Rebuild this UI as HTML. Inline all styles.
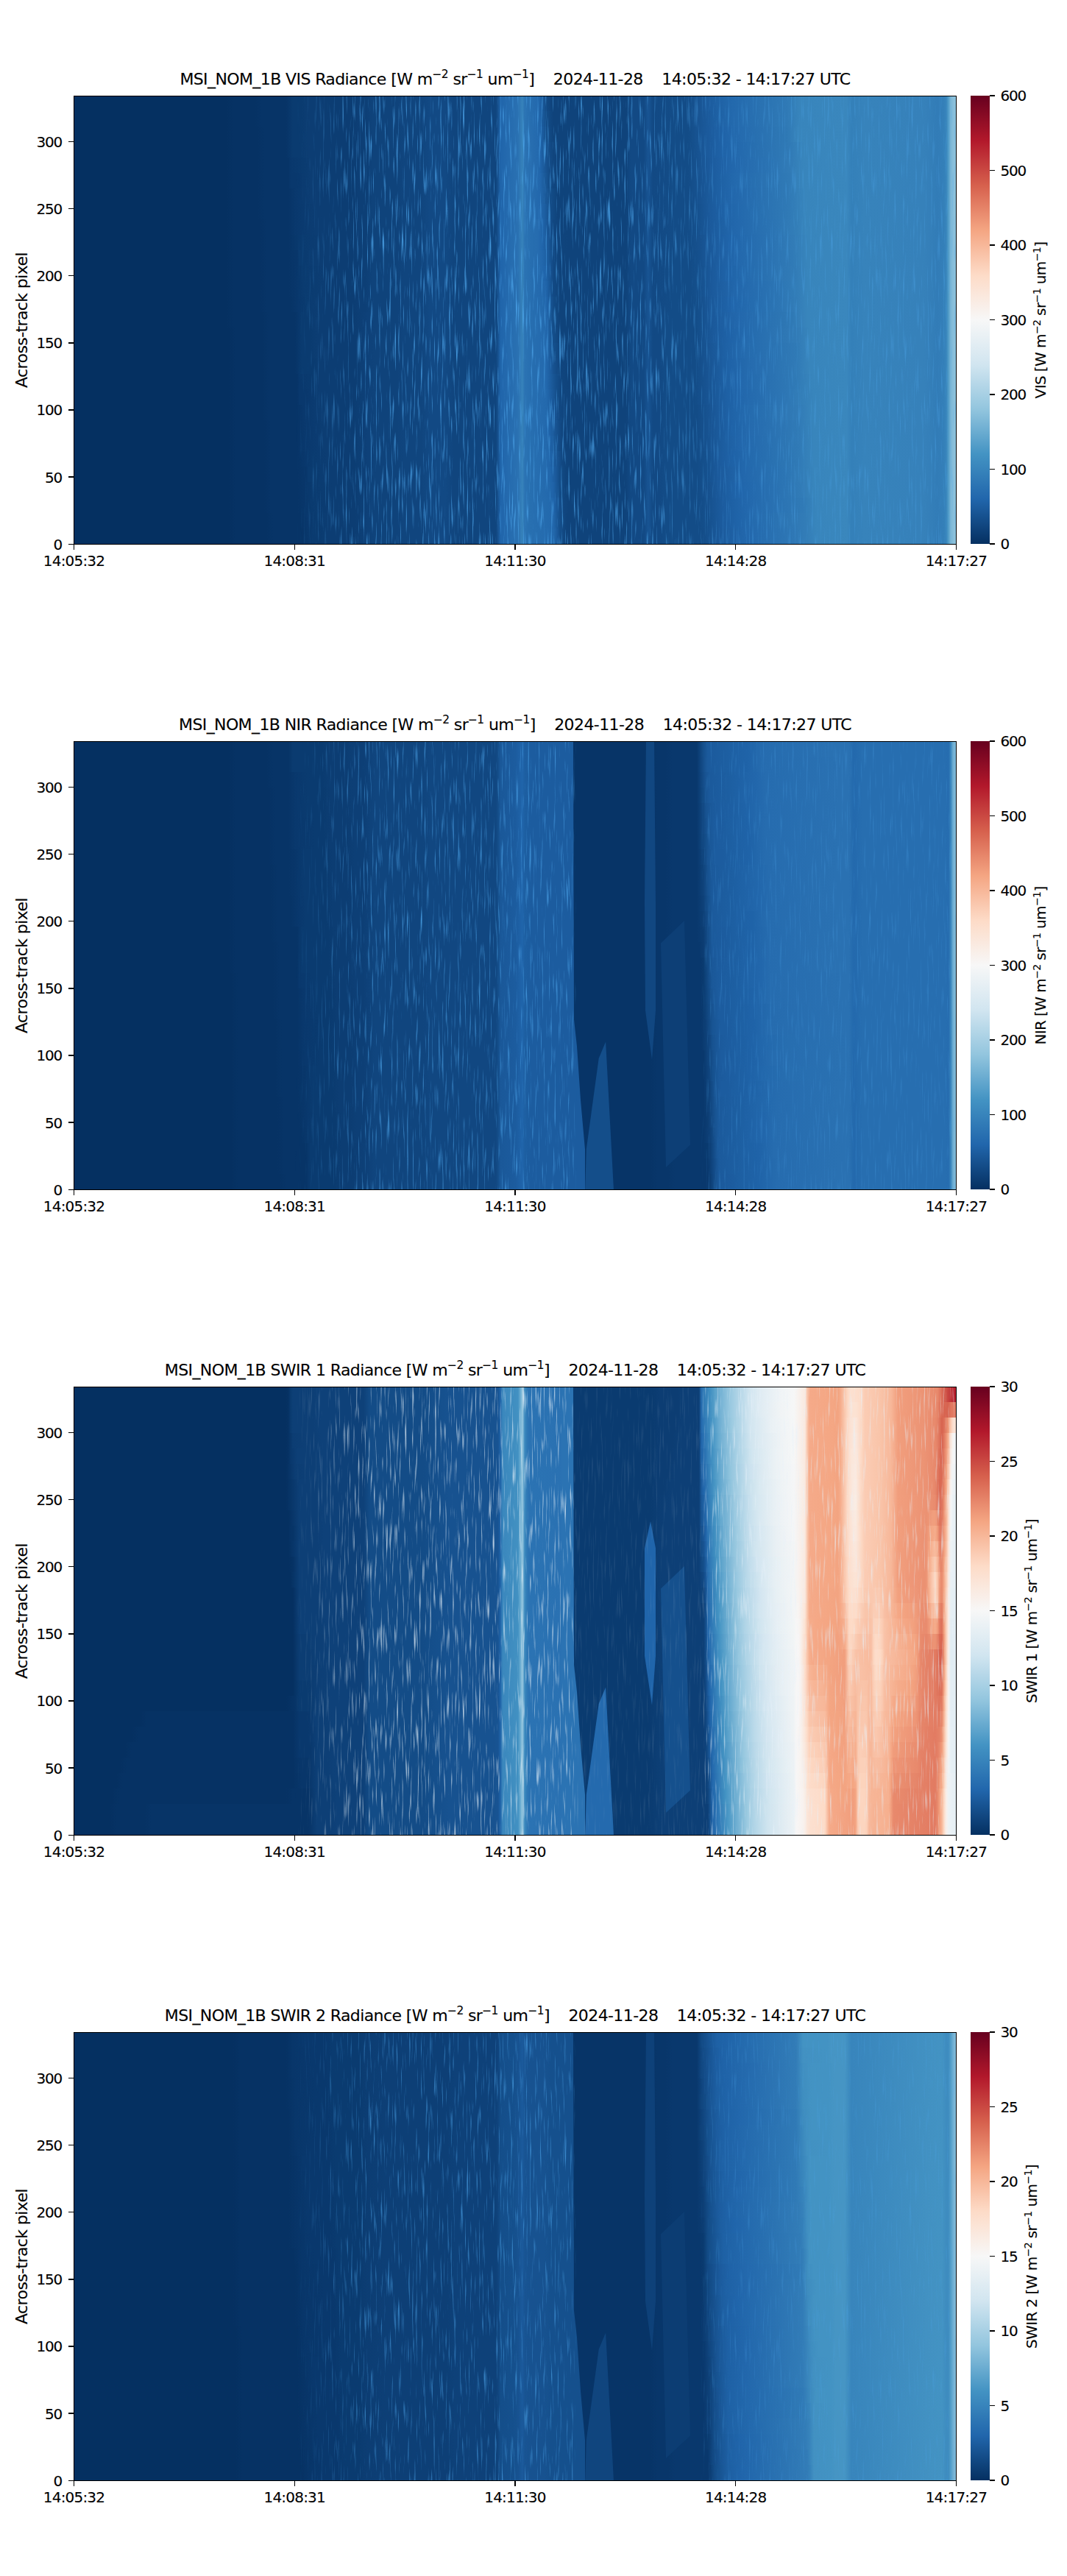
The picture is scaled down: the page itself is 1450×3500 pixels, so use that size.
<!DOCTYPE html><html><head><meta charset="utf-8"><title>MSI_NOM_1B Radiance</title><style>
html,body{margin:0;padding:0;background:#fff;}
body{width:1450px;height:3500px;position:relative;overflow:hidden;font-family:"DejaVu Sans","Liberation Sans",sans-serif;color:#000;}
.t{position:absolute;white-space:nowrap;line-height:1;-webkit-text-stroke:0.1px #000;}
.tick{font-size:20px;letter-spacing:-0.8px;}
.title{font-size:22px;letter-spacing:-0.6px;text-align:center;left:0;width:1400px;}
.title sup{font-size:70%;vertical-align:baseline;position:relative;top:-0.62em;}
.lab sup{font-size:70%;vertical-align:baseline;position:relative;top:-0.52em;}
.ax{position:absolute;box-sizing:border-box;border:1.3px solid #000;}
.img{position:absolute;overflow:hidden;}
.img div{position:absolute;}
.img .tex{left:0;top:0;width:1200px;height:609px;}
.img .tex svg{display:block}
.k{position:absolute;background:#000;}
.cb{position:absolute;background:linear-gradient(to top,#053061 0%,#2166ac 10%,#4393c3 20%,#92c5de 30%,#d1e5f0 40%,#f7f7f7 50%,#fddbc7 60%,#f4a582 70%,#d6604d 80%,#b2182b 90%,#67001f 100%);}
.rot{position:absolute;white-space:nowrap;line-height:1;-webkit-text-stroke:0.1px #000;transform-origin:0 0;transform:rotate(-90deg);}
</style></head><body>
<div class="t title" style="top:97.3px">MSI_NOM_1B VIS Radiance [W m<sup>−2</sup> sr<sup>−1</sup> um<sup>−1</sup>]&nbsp;&nbsp;&nbsp;&nbsp;2024-11-28&nbsp;&nbsp;&nbsp;&nbsp;14:05:32 - 14:17:27 UTC</div>
<div class="img" style="left:100.5px;top:130.5px;width:1198.9px;height:608.8px;"><div style="left:0;top:0.00px;width:1200px;height:21.59px;background:linear-gradient(to right,#053061 0px,#053061 207px,#063264 216px,#063264 246px,#073467 255px,#073467 288px,#0a3b70 297px,#0a3b70 309px,#0c3d73 318px,#0c3d73 378px,#0d3f76 387px,#0d3f76 396px,#0f437b 405px,#0f437b 438px,#10457e 447px,#10457e 471px,#124984 483px,#124984 504px,#10457e 516px,#10457e 573px,#175290 576px,#2065ab 579px,#2a71b2 603px,#3783bb 609px,#2b73b3 612px,#246aae 627px,#246aae 630px,#1f63a8 633px,#124984 642px,#0f437b 651px,#0f437b 750px,#124984 756px,#124984 774px,#185493 780px,#124984 786px,#134c87 813px,#134c87 831px,#185493 849px,#1b5a9c 858px,#1d5fa2 870px,#2369ad 894px,#307ab6 969px,#3885bc 987px,#3a87bd 1050px,#3480b9 1056px,#3783bb 1074px,#3681ba 1155px,#327cb7 1173px,#3480b9 1182px,#3885bc 1185px,#529dc8 1188px,#7bb6d6 1191px,#87beda 1194px,#8dc2dc 1197px)"></div><div style="left:0;top:20.99px;width:1200px;height:21.59px;background:linear-gradient(to right,#053061 0px,#053061 207px,#063264 216px,#063264 246px,#073467 255px,#073467 288px,#0a3b70 297px,#0a3b70 309px,#0c3d73 318px,#0c3d73 378px,#0d3f76 387px,#0d3f76 396px,#0f437b 405px,#0f437b 438px,#10457e 447px,#10457e 471px,#124984 483px,#124984 504px,#10457e 516px,#10457e 573px,#175290 576px,#2065ab 579px,#2a71b2 603px,#3783bb 609px,#2b73b3 612px,#246aae 627px,#246aae 630px,#1f63a8 633px,#134c87 642px,#0f437b 651px,#0f437b 750px,#124984 756px,#124984 774px,#185493 780px,#124984 786px,#134c87 813px,#134c87 831px,#185493 849px,#1d5fa2 870px,#2369ad 894px,#307ab6 969px,#3885bc 987px,#3a87bd 1050px,#3480b9 1056px,#3783bb 1074px,#3681ba 1155px,#327cb7 1173px,#3480b9 1182px,#3885bc 1185px,#529dc8 1188px,#7bb6d6 1191px,#87beda 1194px,#8dc2dc 1197px)"></div><div style="left:0;top:41.99px;width:1200px;height:21.59px;background:linear-gradient(to right,#053061 0px,#053061 207px,#063264 216px,#063264 249px,#073467 258px,#073467 288px,#0a3b70 297px,#0a3b70 309px,#0c3d73 318px,#0c3d73 378px,#0d3f76 387px,#0d3f76 396px,#0f437b 405px,#0f437b 438px,#10457e 447px,#10457e 471px,#124984 483px,#124984 504px,#10457e 516px,#10457e 573px,#175290 576px,#2065ab 579px,#2a71b2 603px,#3783bb 609px,#2b73b3 612px,#266caf 624px,#246aae 630px,#2065ab 633px,#144e8a 642px,#0f437b 651px,#0f437b 750px,#124984 756px,#124984 774px,#185493 780px,#124984 786px,#134c87 813px,#134c87 834px,#195696 852px,#1b5a9c 861px,#1f63a8 882px,#246aae 900px,#2f79b5 969px,#3885bc 984px,#3a87bd 1050px,#3480b9 1056px,#3783bb 1074px,#3681ba 1155px,#327cb7 1173px,#3480b9 1182px,#3885bc 1185px,#529dc8 1188px,#7bb6d6 1191px,#87beda 1194px,#8dc2dc 1197px)"></div><div style="left:0;top:62.98px;width:1200px;height:21.59px;background:linear-gradient(to right,#053061 0px,#053061 207px,#063264 216px,#063264 249px,#073467 258px,#073467 288px,#0a3b70 297px,#0a3b70 309px,#0c3d73 318px,#0c3d73 378px,#0d3f76 387px,#0d3f76 396px,#0f437b 405px,#0f437b 438px,#10457e 447px,#10457e 471px,#124984 483px,#124984 504px,#10457e 516px,#10457e 573px,#175290 576px,#2065ab 579px,#2a71b2 603px,#3783bb 609px,#2b73b3 612px,#266caf 624px,#246aae 630px,#2065ab 633px,#15508d 642px,#10457e 651px,#0f437b 660px,#0f437b 750px,#124984 756px,#124984 774px,#185493 780px,#124984 786px,#134c87 813px,#134c87 834px,#1b5a9c 861px,#1f63a8 882px,#2369ad 900px,#307ab6 972px,#3885bc 990px,#3a87bd 1050px,#3480b9 1056px,#3783bb 1074px,#3681ba 1155px,#327cb7 1173px,#3480b9 1182px,#3885bc 1185px,#529dc8 1188px,#7bb6d6 1191px,#87beda 1194px,#8dc2dc 1197px)"></div><div style="left:0;top:83.97px;width:1200px;height:21.59px;background:linear-gradient(to right,#053061 0px,#053061 207px,#063264 216px,#063264 249px,#073467 258px,#073467 291px,#09386d 294px,#0a3b70 312px,#0c3d73 321px,#0c3d73 378px,#0d3f76 387px,#0d3f76 396px,#0f437b 405px,#0f437b 438px,#10457e 447px,#10457e 471px,#124984 483px,#124984 504px,#10457e 516px,#10457e 573px,#175290 576px,#2065ab 579px,#2a71b2 603px,#3783bb 609px,#2b73b3 612px,#266caf 624px,#246aae 630px,#2065ab 633px,#175290 642px,#10457e 651px,#0f437b 669px,#0f437b 750px,#124984 756px,#124984 774px,#185493 780px,#124984 786px,#134c87 813px,#134c87 834px,#195696 855px,#1c5c9f 867px,#2267ac 894px,#2c75b4 951px,#327cb7 975px,#3885bc 990px,#3a87bd 1050px,#3480b9 1056px,#3783bb 1074px,#3681ba 1155px,#327cb7 1173px,#3480b9 1182px,#3885bc 1185px,#529dc8 1188px,#7bb6d6 1191px,#87beda 1194px,#8dc2dc 1197px)"></div><div style="left:0;top:104.97px;width:1200px;height:21.59px;background:linear-gradient(to right,#053061 0px,#053061 207px,#063264 216px,#063264 249px,#073467 258px,#073467 291px,#09386d 294px,#09386d 303px,#0c3d73 321px,#0c3d73 378px,#0d3f76 387px,#0d3f76 396px,#0f437b 405px,#0f437b 438px,#10457e 447px,#10457e 471px,#124984 483px,#124984 504px,#10457e 516px,#10457e 573px,#175290 576px,#2065ab 579px,#2a71b2 603px,#3783bb 609px,#2b73b3 612px,#266caf 624px,#2267ac 633px,#144e8a 645px,#10457e 651px,#0f437b 669px,#0f437b 750px,#124984 756px,#124984 774px,#185493 780px,#124984 786px,#134c87 813px,#134c87 834px,#185493 852px,#1d5fa2 873px,#2369ad 897px,#307ab6 972px,#3885bc 990px,#3a87bd 1050px,#3480b9 1056px,#3783bb 1074px,#3681ba 1155px,#327cb7 1173px,#3480b9 1182px,#3885bc 1185px,#529dc8 1188px,#7bb6d6 1191px,#87beda 1194px,#8dc2dc 1197px)"></div><div style="left:0;top:125.96px;width:1200px;height:21.59px;background:linear-gradient(to right,#053061 0px,#053061 207px,#063264 216px,#063264 249px,#073467 258px,#073467 291px,#09386d 300px,#0c3d73 321px,#0c3d73 378px,#0d3f76 387px,#0d3f76 396px,#0f437b 405px,#0f437b 438px,#10457e 447px,#10457e 471px,#124984 483px,#124984 504px,#10457e 516px,#10457e 573px,#175290 576px,#2065ab 579px,#2a71b2 603px,#3783bb 609px,#2b73b3 612px,#266caf 624px,#2267ac 633px,#134c87 648px,#0f437b 657px,#0f437b 750px,#124984 756px,#124984 774px,#185493 780px,#124984 786px,#134c87 813px,#134c87 834px,#185493 852px,#1d5fa2 873px,#2267ac 894px,#307ab6 972px,#3885bc 993px,#3a87bd 1050px,#3480b9 1056px,#3783bb 1074px,#3681ba 1155px,#327cb7 1173px,#3480b9 1182px,#3885bc 1185px,#529dc8 1188px,#7bb6d6 1191px,#87beda 1194px,#8dc2dc 1197px)"></div><div style="left:0;top:146.95px;width:1200px;height:21.59px;background:linear-gradient(to right,#053061 0px,#053061 207px,#063264 216px,#063264 249px,#073467 258px,#073467 291px,#09386d 300px,#0c3d73 327px,#0c3d73 378px,#0d3f76 387px,#0d3f76 396px,#0f437b 405px,#0f437b 438px,#10457e 447px,#10457e 471px,#124984 483px,#124984 504px,#10457e 516px,#10457e 573px,#175290 576px,#2065ab 579px,#2a71b2 603px,#3783bb 609px,#2b73b3 612px,#266caf 624px,#2267ac 633px,#1d5fa2 639px,#134c87 648px,#0f437b 657px,#0f437b 750px,#124984 756px,#124984 774px,#185493 780px,#124984 786px,#134c87 813px,#134c87 834px,#15508d 846px,#1b5a9c 864px,#1f63a8 885px,#2369ad 903px,#307ab6 972px,#3885bc 993px,#3a87bd 1050px,#3480b9 1056px,#3783bb 1074px,#3681ba 1155px,#327cb7 1173px,#3480b9 1182px,#3885bc 1185px,#529dc8 1188px,#7bb6d6 1191px,#87beda 1194px,#8dc2dc 1197px)"></div><div style="left:0;top:167.94px;width:1200px;height:21.59px;background:linear-gradient(to right,#053061 0px,#053061 207px,#063264 216px,#063264 252px,#073467 261px,#073467 291px,#09386d 300px,#0c3d73 327px,#0c3d73 378px,#0d3f76 387px,#0d3f76 396px,#0f437b 405px,#0f437b 438px,#10457e 447px,#10457e 471px,#124984 483px,#124984 504px,#10457e 516px,#10457e 573px,#175290 576px,#2065ab 579px,#2a71b2 603px,#3783bb 609px,#2b73b3 612px,#276eb0 621px,#266caf 630px,#2065ab 636px,#185493 645px,#114781 651px,#0f437b 663px,#0f437b 750px,#124984 756px,#124984 774px,#185493 780px,#124984 786px,#134c87 813px,#134c87 834px,#15508d 846px,#1b5a9c 864px,#1d5fa2 876px,#2267ac 897px,#2c75b4 954px,#337eb8 981px,#3885bc 993px,#3a87bd 1050px,#3480b9 1056px,#3783bb 1074px,#3681ba 1155px,#327cb7 1173px,#3480b9 1182px,#3885bc 1185px,#529dc8 1188px,#7bb6d6 1191px,#87beda 1194px,#8dc2dc 1197px)"></div><div style="left:0;top:188.94px;width:1200px;height:21.59px;background:linear-gradient(to right,#053061 0px,#053061 207px,#063264 216px,#063264 252px,#073467 261px,#073467 291px,#0a3b70 309px,#0c3d73 336px,#0c3d73 378px,#0d3f76 387px,#0d3f76 396px,#0f437b 405px,#0f437b 438px,#10457e 447px,#10457e 471px,#124984 483px,#124984 504px,#10457e 516px,#10457e 573px,#175290 576px,#2065ab 579px,#2a71b2 603px,#3783bb 609px,#2b73b3 612px,#276eb0 621px,#266caf 630px,#2065ab 636px,#195696 645px,#144e8a 648px,#10457e 654px,#0f437b 672px,#0f437b 750px,#124984 756px,#124984 774px,#185493 780px,#124984 786px,#134c87 813px,#134c87 834px,#175290 852px,#1a5899 861px,#2065ab 891px,#2c75b4 954px,#327cb7 978px,#3885bc 996px,#3a87bd 1050px,#3480b9 1056px,#3783bb 1074px,#3681ba 1155px,#327cb7 1173px,#3480b9 1182px,#3885bc 1185px,#529dc8 1188px,#7bb6d6 1191px,#87beda 1194px,#8dc2dc 1197px)"></div><div style="left:0;top:209.93px;width:1200px;height:21.59px;background:linear-gradient(to right,#053061 0px,#053061 207px,#063264 216px,#063264 252px,#073467 261px,#073467 291px,#08366a 300px,#08366a 303px,#0a3b70 306px,#0a3b70 315px,#0c3d73 324px,#0c3d73 378px,#0d3f76 387px,#0d3f76 396px,#0f437b 405px,#0f437b 438px,#10457e 447px,#10457e 471px,#124984 483px,#124984 504px,#10457e 516px,#10457e 573px,#175290 576px,#2065ab 579px,#2a71b2 603px,#3783bb 609px,#2b73b3 612px,#276eb0 621px,#266caf 630px,#2267ac 636px,#1d5fa2 642px,#124984 651px,#0f437b 660px,#0f437b 750px,#124984 756px,#124984 774px,#185493 780px,#124984 786px,#134c87 813px,#134c87 837px,#15508d 849px,#195696 858px,#1b5a9c 867px,#2267ac 897px,#307ab6 975px,#3885bc 996px,#3a87bd 1050px,#3480b9 1056px,#3783bb 1074px,#3681ba 1155px,#327cb7 1173px,#3480b9 1182px,#3885bc 1185px,#529dc8 1188px,#7bb6d6 1191px,#87beda 1194px,#8dc2dc 1197px)"></div><div style="left:0;top:230.92px;width:1200px;height:21.59px;background:linear-gradient(to right,#053061 0px,#053061 207px,#063264 216px,#063264 252px,#073467 261px,#073467 291px,#08366a 300px,#0a3b70 312px,#0c3d73 339px,#0c3d73 378px,#0d3f76 387px,#0d3f76 396px,#0f437b 405px,#0f437b 438px,#10457e 447px,#10457e 471px,#124984 483px,#124984 504px,#10457e 516px,#10457e 573px,#175290 576px,#2065ab 579px,#2a71b2 603px,#3783bb 609px,#2b73b3 612px,#276eb0 621px,#246aae 633px,#2065ab 639px,#1e61a5 642px,#124984 651px,#0f437b 660px,#0f437b 750px,#124984 756px,#124984 774px,#185493 780px,#124984 786px,#134c87 813px,#134c87 837px,#15508d 849px,#1b5a9c 867px,#1f63a8 888px,#2369ad 906px,#327cb7 981px,#3885bc 996px,#3a87bd 1050px,#3480b9 1056px,#3783bb 1074px,#3681ba 1155px,#327cb7 1173px,#3480b9 1182px,#3885bc 1185px,#529dc8 1188px,#7bb6d6 1191px,#87beda 1194px,#8dc2dc 1197px)"></div><div style="left:0;top:251.92px;width:1200px;height:21.59px;background:linear-gradient(to right,#053061 0px,#053061 207px,#063264 216px,#063264 252px,#073467 261px,#073467 291px,#08366a 300px,#0a3b70 312px,#0c3d73 339px,#0c3d73 378px,#0d3f76 387px,#0d3f76 396px,#0f437b 405px,#0f437b 438px,#10457e 447px,#10457e 471px,#124984 483px,#124984 504px,#10457e 516px,#10457e 573px,#175290 576px,#2065ab 579px,#2a71b2 603px,#3783bb 609px,#2b73b3 612px,#276eb0 621px,#2267ac 639px,#1f63a8 642px,#124984 651px,#0f437b 660px,#0f437b 750px,#124984 756px,#124984 774px,#185493 780px,#124984 786px,#134c87 813px,#134c87 837px,#15508d 849px,#1b5a9c 867px,#2267ac 900px,#2c75b4 957px,#337eb8 984px,#3885bc 996px,#3a87bd 1050px,#3480b9 1056px,#3783bb 1074px,#3681ba 1155px,#327cb7 1173px,#3480b9 1182px,#3885bc 1185px,#529dc8 1188px,#7bb6d6 1191px,#87beda 1194px,#8dc2dc 1197px)"></div><div style="left:0;top:272.91px;width:1200px;height:21.59px;background:linear-gradient(to right,#053061 0px,#053061 207px,#063264 216px,#063264 252px,#073467 261px,#073467 294px,#09386d 306px,#0a3b70 315px,#0c3d73 333px,#0c3d73 378px,#0d3f76 387px,#0d3f76 396px,#0f437b 405px,#0f437b 438px,#10457e 447px,#10457e 471px,#124984 483px,#124984 504px,#10457e 516px,#10457e 573px,#175290 576px,#2065ab 579px,#2a71b2 603px,#3783bb 609px,#2b73b3 612px,#276eb0 621px,#2369ad 639px,#2065ab 642px,#134c87 651px,#0f437b 660px,#0f437b 750px,#124984 756px,#124984 774px,#185493 780px,#124984 786px,#134c87 813px,#134c87 837px,#144e8a 846px,#175290 855px,#1a5899 864px,#2065ab 894px,#2c75b4 957px,#327cb7 981px,#3885bc 996px,#3a87bd 1050px,#3480b9 1056px,#3783bb 1074px,#3681ba 1155px,#327cb7 1173px,#3480b9 1182px,#3885bc 1185px,#529dc8 1188px,#7bb6d6 1191px,#87beda 1194px,#8dc2dc 1197px)"></div><div style="left:0;top:293.90px;width:1200px;height:21.59px;background:linear-gradient(to right,#053061 0px,#053061 207px,#063264 216px,#063264 255px,#073467 264px,#073467 300px,#0a3b70 309px,#0a3b70 321px,#0c3d73 330px,#0c3d73 381px,#0d3f76 390px,#0e4179 399px,#0f437b 408px,#0f437b 438px,#10457e 447px,#10457e 471px,#124984 483px,#124984 504px,#10457e 516px,#10457e 573px,#175290 576px,#2065ab 579px,#2a71b2 603px,#3783bb 609px,#2b73b3 612px,#276eb0 621px,#246aae 639px,#2267ac 642px,#134c87 651px,#0f437b 660px,#0f437b 750px,#124984 756px,#124984 774px,#185493 780px,#124984 786px,#124984 795px,#134c87 804px,#134c87 840px,#15508d 852px,#195696 861px,#1b5a9c 870px,#2267ac 900px,#2f79b5 975px,#3681ba 990px,#3885bc 996px,#3a87bd 1050px,#3480b9 1056px,#3783bb 1074px,#3681ba 1155px,#327cb7 1173px,#3480b9 1182px,#3885bc 1185px,#529dc8 1188px,#7bb6d6 1191px,#87beda 1194px,#8dc2dc 1197px)"></div><div style="left:0;top:314.90px;width:1200px;height:21.59px;background:linear-gradient(to right,#053061 0px,#053061 210px,#063264 219px,#063264 255px,#073467 264px,#073467 300px,#0a3b70 309px,#0a3b70 321px,#0c3d73 330px,#0c3d73 381px,#0d3f76 390px,#0e4179 399px,#0f437b 408px,#0f437b 438px,#10457e 447px,#10457e 471px,#124984 483px,#124984 504px,#10457e 516px,#10457e 573px,#175290 576px,#2065ab 579px,#2a71b2 603px,#3783bb 609px,#2b73b3 612px,#276eb0 621px,#246aae 639px,#2267ac 642px,#144e8a 651px,#0f437b 660px,#0f437b 750px,#124984 756px,#124984 774px,#185493 780px,#124984 786px,#124984 795px,#134c87 804px,#134c87 843px,#1b5a9c 870px,#1f63a8 891px,#2369ad 909px,#327cb7 984px,#3885bc 999px,#3a87bd 1050px,#3480b9 1056px,#3783bb 1074px,#3681ba 1155px,#327cb7 1173px,#3480b9 1182px,#3885bc 1185px,#529dc8 1188px,#7bb6d6 1191px,#87beda 1194px,#8dc2dc 1197px)"></div><div style="left:0;top:335.89px;width:1200px;height:21.59px;background:linear-gradient(to right,#053061 0px,#053061 210px,#063264 219px,#063264 255px,#073467 264px,#073467 300px,#0a3b70 309px,#0a3b70 321px,#0c3d73 330px,#0c3d73 381px,#0d3f76 390px,#0e4179 399px,#0f437b 408px,#0f437b 438px,#10457e 447px,#10457e 471px,#124984 483px,#124984 504px,#10457e 516px,#10457e 573px,#175290 576px,#2065ab 579px,#2a71b2 603px,#3783bb 609px,#2b73b3 612px,#276eb0 621px,#246aae 639px,#2267ac 642px,#15508d 651px,#10457e 660px,#0f437b 669px,#0f437b 750px,#124984 756px,#124984 774px,#185493 780px,#124984 786px,#124984 795px,#134c87 804px,#134c87 843px,#195696 864px,#1e61a5 885px,#2369ad 906px,#307ab6 981px,#3885bc 999px,#3a87bd 1050px,#3480b9 1056px,#3783bb 1074px,#3681ba 1155px,#327cb7 1173px,#3480b9 1182px,#3885bc 1185px,#529dc8 1188px,#7bb6d6 1191px,#87beda 1194px,#8dc2dc 1197px)"></div><div style="left:0;top:356.88px;width:1200px;height:21.59px;background:linear-gradient(to right,#053061 0px,#053061 210px,#063264 219px,#063264 255px,#073467 264px,#073467 300px,#0a3b70 309px,#0a3b70 324px,#0c3d73 333px,#0c3d73 381px,#0d3f76 390px,#0e4179 399px,#0f437b 408px,#0f437b 438px,#10457e 447px,#10457e 471px,#124984 483px,#124984 504px,#10457e 516px,#10457e 573px,#175290 576px,#2065ab 579px,#2a71b2 603px,#3783bb 609px,#2b73b3 612px,#276eb0 621px,#246aae 639px,#2267ac 642px,#1b5a9c 648px,#175290 651px,#10457e 660px,#0f437b 678px,#0f437b 750px,#124984 756px,#124984 774px,#185493 780px,#124984 786px,#124984 795px,#134c87 804px,#134c87 843px,#185493 861px,#1f63a8 891px,#266caf 921px,#307ab6 981px,#3885bc 999px,#3a87bd 1050px,#3480b9 1056px,#3783bb 1074px,#3681ba 1155px,#327cb7 1173px,#3480b9 1182px,#3885bc 1185px,#529dc8 1188px,#7bb6d6 1191px,#87beda 1194px,#8dc2dc 1197px)"></div><div style="left:0;top:377.88px;width:1200px;height:21.59px;background:linear-gradient(to right,#053061 0px,#053061 210px,#063264 219px,#063264 255px,#073467 264px,#073467 303px,#09386d 306px,#0a3b70 324px,#0c3d73 333px,#0c3d73 381px,#0d3f76 390px,#0e4179 399px,#0f437b 408px,#0f437b 438px,#10457e 447px,#10457e 471px,#124984 483px,#124984 504px,#10457e 516px,#10457e 573px,#175290 576px,#2065ab 579px,#2a71b2 603px,#3783bb 609px,#2b73b3 612px,#276eb0 621px,#246aae 639px,#2267ac 642px,#15508d 654px,#10457e 663px,#0f437b 672px,#0f437b 750px,#124984 756px,#124984 774px,#185493 780px,#124984 786px,#124984 795px,#134c87 804px,#134c87 843px,#185493 861px,#1d5fa2 882px,#2267ac 903px,#307ab6 981px,#3885bc 1002px,#3a87bd 1050px,#3480b9 1056px,#3783bb 1074px,#3681ba 1155px,#327cb7 1173px,#3480b9 1182px,#3885bc 1185px,#529dc8 1188px,#7bb6d6 1191px,#87beda 1194px,#8dc2dc 1197px)"></div><div style="left:0;top:398.87px;width:1200px;height:21.59px;background:linear-gradient(to right,#053061 0px,#053061 210px,#063264 219px,#063264 255px,#073467 264px,#073467 303px,#09386d 306px,#09386d 315px,#0c3d73 333px,#0c3d73 381px,#0d3f76 390px,#0e4179 399px,#0f437b 408px,#0f437b 438px,#10457e 447px,#10457e 471px,#124984 483px,#124984 504px,#10457e 516px,#10457e 573px,#175290 576px,#2065ab 579px,#2a71b2 603px,#3783bb 609px,#2b73b3 612px,#276eb0 621px,#246aae 639px,#2369ad 642px,#1c5c9f 648px,#134c87 657px,#10457e 663px,#0f437b 681px,#0f437b 750px,#124984 756px,#124984 774px,#185493 780px,#124984 786px,#124984 795px,#134c87 804px,#134c87 843px,#1a5899 870px,#1e61a5 888px,#2267ac 906px,#2e77b5 969px,#337eb8 987px,#3885bc 1005px,#3a87bd 1050px,#3480b9 1056px,#3783bb 1074px,#3681ba 1155px,#327cb7 1173px,#3480b9 1182px,#3885bc 1185px,#529dc8 1188px,#7bb6d6 1191px,#87beda 1194px,#8dc2dc 1197px)"></div><div style="left:0;top:419.86px;width:1200px;height:21.59px;background:linear-gradient(to right,#053061 0px,#053061 210px,#063264 219px,#063264 255px,#073467 264px,#073467 303px,#09386d 312px,#0c3d73 333px,#0c3d73 381px,#0d3f76 390px,#0e4179 399px,#0f437b 408px,#0f437b 438px,#10457e 447px,#10457e 471px,#124984 483px,#124984 504px,#10457e 516px,#10457e 573px,#175290 576px,#2065ab 579px,#2a71b2 603px,#3783bb 609px,#2b73b3 612px,#276eb0 621px,#246aae 639px,#2369ad 642px,#1a5899 651px,#114781 660px,#0f437b 672px,#0f437b 750px,#124984 756px,#124984 774px,#185493 780px,#124984 786px,#124984 795px,#134c87 804px,#134c87 846px,#195696 867px,#1e61a5 888px,#2369ad 909px,#327cb7 987px,#3885bc 1002px,#3a87bd 1050px,#3480b9 1056px,#3783bb 1074px,#3681ba 1155px,#327cb7 1173px,#3480b9 1182px,#3885bc 1185px,#529dc8 1188px,#7bb6d6 1191px,#87beda 1194px,#8dc2dc 1197px)"></div><div style="left:0;top:440.86px;width:1200px;height:21.59px;background:linear-gradient(to right,#053061 0px,#053061 210px,#063264 219px,#063264 258px,#073467 267px,#073467 303px,#09386d 312px,#0c3d73 339px,#0c3d73 381px,#0d3f76 390px,#0e4179 399px,#0f437b 408px,#0f437b 438px,#10457e 447px,#10457e 471px,#124984 483px,#124984 504px,#10457e 516px,#10457e 573px,#175290 576px,#2065ab 579px,#2a71b2 603px,#3783bb 609px,#2b73b3 612px,#276eb0 621px,#246aae 639px,#2065ab 645px,#185493 654px,#10457e 663px,#0f437b 681px,#0f437b 750px,#124984 756px,#124984 774px,#185493 780px,#124984 786px,#124984 795px,#134c87 804px,#134c87 846px,#185493 864px,#1f63a8 894px,#266caf 924px,#307ab6 984px,#3885bc 1005px,#3a87bd 1050px,#3480b9 1056px,#3783bb 1074px,#3681ba 1155px,#327cb7 1173px,#3480b9 1182px,#3885bc 1185px,#529dc8 1188px,#7bb6d6 1191px,#87beda 1194px,#8dc2dc 1197px)"></div><div style="left:0;top:461.85px;width:1200px;height:21.59px;background:linear-gradient(to right,#053061 0px,#053061 210px,#063264 219px,#063264 258px,#073467 267px,#073467 303px,#09386d 312px,#0c3d73 339px,#0c3d73 381px,#0d3f76 390px,#0e4179 399px,#0f437b 408px,#0f437b 438px,#10457e 447px,#10457e 471px,#124984 483px,#124984 504px,#10457e 516px,#10457e 573px,#175290 576px,#2065ab 579px,#2a71b2 603px,#3783bb 609px,#2b73b3 612px,#2870b1 618px,#2369ad 642px,#1e61a5 648px,#15508d 657px,#124984 660px,#0f437b 669px,#0f437b 750px,#124984 756px,#124984 774px,#185493 780px,#124984 786px,#124984 795px,#134c87 804px,#134c87 846px,#185493 864px,#1d5fa2 885px,#2267ac 906px,#307ab6 984px,#3885bc 1005px,#3a87bd 1050px,#3480b9 1056px,#3783bb 1074px,#3681ba 1155px,#327cb7 1173px,#3480b9 1182px,#3885bc 1185px,#529dc8 1188px,#7bb6d6 1191px,#87beda 1194px,#8dc2dc 1197px)"></div><div style="left:0;top:482.84px;width:1200px;height:21.59px;background:linear-gradient(to right,#053061 0px,#053061 210px,#063264 219px,#063264 258px,#073467 267px,#073467 303px,#09386d 315px,#0a3b70 324px,#0c3d73 342px,#0c3d73 381px,#0d3f76 390px,#0e4179 399px,#0f437b 408px,#0f437b 438px,#10457e 447px,#10457e 471px,#124984 483px,#124984 504px,#10457e 516px,#10457e 573px,#175290 576px,#2065ab 579px,#2a71b2 603px,#3783bb 609px,#2b73b3 612px,#2870b1 618px,#246aae 642px,#1f63a8 648px,#175290 657px,#114781 663px,#0f437b 672px,#0f437b 750px,#124984 756px,#124984 774px,#185493 780px,#124984 786px,#124984 795px,#134c87 804px,#134c87 846px,#15508d 858px,#1c5c9f 879px,#1f63a8 897px,#2369ad 915px,#307ab6 984px,#3885bc 1005px,#3a87bd 1050px,#3480b9 1056px,#3783bb 1074px,#3681ba 1155px,#327cb7 1173px,#3480b9 1182px,#3885bc 1185px,#529dc8 1188px,#7bb6d6 1191px,#87beda 1194px,#8dc2dc 1197px)"></div><div style="left:0;top:503.83px;width:1200px;height:21.59px;background:linear-gradient(to right,#053061 0px,#053061 210px,#063264 219px,#063264 258px,#073467 267px,#073467 303px,#08366a 312px,#08366a 315px,#0a3b70 318px,#0a3b70 330px,#0c3d73 339px,#0c3d73 381px,#0d3f76 390px,#0e4179 399px,#0f437b 408px,#0f437b 438px,#10457e 447px,#10457e 471px,#124984 483px,#124984 504px,#10457e 516px,#10457e 573px,#175290 576px,#2065ab 579px,#2a71b2 603px,#3783bb 609px,#2b73b3 612px,#2870b1 618px,#246aae 642px,#2065ab 648px,#1b5a9c 654px,#134c87 660px,#0f437b 669px,#0f437b 750px,#124984 756px,#124984 774px,#185493 780px,#124984 786px,#124984 795px,#134c87 804px,#134c87 846px,#15508d 858px,#1b5a9c 876px,#2267ac 909px,#2c75b4 966px,#337eb8 993px,#3885bc 1005px,#3a87bd 1050px,#3480b9 1056px,#3783bb 1074px,#3681ba 1155px,#327cb7 1173px,#3480b9 1182px,#3885bc 1185px,#529dc8 1188px,#7bb6d6 1191px,#87beda 1194px,#8dc2dc 1197px)"></div><div style="left:0;top:524.83px;width:1200px;height:21.59px;background:linear-gradient(to right,#053061 0px,#053061 210px,#063264 219px,#063264 258px,#073467 267px,#073467 303px,#08366a 312px,#0a3b70 324px,#0c3d73 351px,#0c3d73 381px,#0d3f76 390px,#0e4179 399px,#0f437b 408px,#0f437b 438px,#10457e 447px,#10457e 471px,#124984 483px,#124984 504px,#10457e 516px,#10457e 573px,#175290 576px,#2065ab 579px,#2a71b2 603px,#3783bb 609px,#2b73b3 612px,#2870b1 618px,#2369ad 645px,#1f63a8 651px,#134c87 660px,#0f437b 669px,#0f437b 750px,#124984 756px,#124984 774px,#185493 780px,#124984 786px,#124984 795px,#134c87 804px,#134c87 846px,#175290 864px,#1a5899 873px,#2065ab 903px,#2c75b4 966px,#327cb7 990px,#3885bc 1005px,#3a87bd 1050px,#3480b9 1056px,#3783bb 1074px,#3681ba 1155px,#327cb7 1173px,#3480b9 1182px,#3885bc 1185px,#529dc8 1188px,#7bb6d6 1191px,#87beda 1194px,#8dc2dc 1197px)"></div><div style="left:0;top:545.82px;width:1200px;height:21.59px;background:linear-gradient(to right,#053061 0px,#053061 210px,#063264 219px,#063264 258px,#073467 267px,#073467 303px,#08366a 312px,#0a3b70 324px,#0c3d73 351px,#0c3d73 381px,#0d3f76 390px,#0e4179 399px,#0f437b 408px,#0f437b 438px,#10457e 447px,#10457e 471px,#124984 483px,#124984 504px,#10457e 516px,#10457e 573px,#175290 576px,#2065ab 579px,#2a71b2 603px,#3783bb 609px,#2b73b3 612px,#2870b1 618px,#2369ad 648px,#2065ab 651px,#114781 663px,#0f437b 672px,#0f437b 750px,#124984 756px,#124984 774px,#185493 780px,#124984 786px,#124984 795px,#134c87 804px,#134c87 846px,#144e8a 855px,#175290 864px,#1c5c9f 882px,#1e61a5 894px,#2267ac 912px,#2c75b4 966px,#307ab6 990px,#3885bc 1008px,#3a87bd 1050px,#3480b9 1056px,#3783bb 1074px,#3681ba 1155px,#327cb7 1173px,#3480b9 1182px,#3885bc 1185px,#529dc8 1188px,#7bb6d6 1191px,#87beda 1194px,#8dc2dc 1197px)"></div><div style="left:0;top:566.81px;width:1200px;height:21.59px;background:linear-gradient(to right,#053061 0px,#053061 210px,#063264 219px,#063264 261px,#073467 270px,#073467 306px,#09386d 318px,#0a3b70 327px,#0c3d73 345px,#0c3d73 381px,#0d3f76 390px,#0e4179 399px,#0f437b 408px,#0f437b 438px,#10457e 447px,#10457e 471px,#124984 483px,#124984 504px,#10457e 516px,#10457e 573px,#175290 576px,#2065ab 579px,#2a71b2 603px,#3783bb 609px,#2b73b3 612px,#2870b1 618px,#2369ad 648px,#2267ac 651px,#144e8a 660px,#0f437b 669px,#0f437b 750px,#124984 756px,#124984 774px,#185493 780px,#124984 786px,#124984 795px,#134c87 804px,#134c87 849px,#15508d 861px,#1c5c9f 882px,#1f63a8 900px,#2369ad 918px,#327cb7 993px,#3885bc 1008px,#3a87bd 1050px,#3480b9 1056px,#3783bb 1074px,#3681ba 1155px,#327cb7 1173px,#3480b9 1182px,#3885bc 1185px,#529dc8 1188px,#7bb6d6 1191px,#87beda 1194px,#8dc2dc 1197px)"></div><div style="left:0;top:587.81px;width:1200px;height:21.59px;background:linear-gradient(to right,#053061 0px,#053061 210px,#063264 219px,#063264 261px,#073467 270px,#073467 309px,#0a3b70 324px,#0a3b70 333px,#0c3d73 342px,#0c3d73 381px,#0d3f76 390px,#0e4179 399px,#0f437b 408px,#0f437b 438px,#10457e 447px,#10457e 471px,#124984 483px,#124984 504px,#10457e 516px,#10457e 573px,#175290 576px,#2065ab 579px,#2a71b2 603px,#3783bb 609px,#2b73b3 612px,#2870b1 618px,#2369ad 651px,#1a5899 657px,#144e8a 660px,#0f437b 669px,#0f437b 750px,#124984 756px,#124984 774px,#185493 780px,#124984 786px,#124984 795px,#134c87 804px,#134c87 852px,#1b5a9c 879px,#2267ac 912px,#2e77b5 975px,#327cb7 993px,#3885bc 1008px,#3a87bd 1050px,#3480b9 1056px,#3783bb 1074px,#3681ba 1155px,#327cb7 1173px,#3480b9 1182px,#3885bc 1185px,#529dc8 1188px,#7bb6d6 1191px,#87beda 1194px,#8dc2dc 1197px)"></div><div class="tex" style="-webkit-mask-image:linear-gradient(to right,transparent 25%,#000 33%,#000 62%,rgba(0,0,0,.45) 72%);mask-image:linear-gradient(to right,transparent 25%,#000 33%,#000 62%,rgba(0,0,0,.45) 72%);"><svg width="1200" height="609"><filter id="n0" x="0" y="0" width="100%" height="100%"><feTurbulence type="fractalNoise" baseFrequency="0.42 0.022" numOctaves="2" seed="3"/><feColorMatrix type="matrix" values="0 0 0 0 0  0 0 0 0 0  0 0 0 0 0  2.6 0 0 0 -1.45"/><feComposite in="SourceGraphic" operator="in"/></filter><rect width="1200" height="609" fill="#50aaf0" filter="url(#n0)"/></svg></div></div>
<div class="ax" style="left:99.85px;top:129.85px;width:1200.20px;height:610.10px;"></div>
<div class="k" style="left:92.8px;top:738.6px;width:7px;height:1.5px"></div>
<div class="t tick" style="letter-spacing:-1.2px;right:1366.0px;top:729.7px">0</div>
<div class="k" style="left:92.8px;top:647.4px;width:7px;height:1.5px"></div>
<div class="t tick" style="letter-spacing:-1.2px;right:1366.0px;top:638.5px">50</div>
<div class="k" style="left:92.8px;top:556.2px;width:7px;height:1.5px"></div>
<div class="t tick" style="letter-spacing:-1.2px;right:1366.0px;top:547.3px">100</div>
<div class="k" style="left:92.8px;top:465.0px;width:7px;height:1.5px"></div>
<div class="t tick" style="letter-spacing:-1.2px;right:1366.0px;top:456.1px">150</div>
<div class="k" style="left:92.8px;top:373.9px;width:7px;height:1.5px"></div>
<div class="t tick" style="letter-spacing:-1.2px;right:1366.0px;top:365.0px">200</div>
<div class="k" style="left:92.8px;top:282.7px;width:7px;height:1.5px"></div>
<div class="t tick" style="letter-spacing:-1.2px;right:1366.0px;top:273.8px">250</div>
<div class="k" style="left:92.8px;top:191.5px;width:7px;height:1.5px"></div>
<div class="t tick" style="letter-spacing:-1.2px;right:1366.0px;top:182.6px">300</div>
<div class="k" style="left:99.8px;top:740.0px;width:1.5px;height:7px"></div>
<div class="t tick" style="left:0.5px;width:200px;text-align:center;top:751.8px">14:05:32</div>
<div class="k" style="left:399.52500000000003px;top:740.0px;width:1.5px;height:7px"></div>
<div class="t tick" style="left:300.225px;width:200px;text-align:center;top:751.8px">14:08:31</div>
<div class="k" style="left:699.25px;top:740.0px;width:1.5px;height:7px"></div>
<div class="t tick" style="left:599.95px;width:200px;text-align:center;top:751.8px">14:11:30</div>
<div class="k" style="left:998.975px;top:740.0px;width:1.5px;height:7px"></div>
<div class="t tick" style="left:899.6750000000001px;width:200px;text-align:center;top:751.8px">14:14:28</div>
<div class="k" style="left:1298.7px;top:740.0px;width:1.5px;height:7px"></div>
<div class="t tick" style="left:1199.4px;width:200px;text-align:center;top:751.8px">14:17:27</div>
<div class="rot lab" style="left:19px;top:434.9px;font-size:22px;letter-spacing:-0.6px"><span style="display:inline-block;transform:translateX(-50%)">Across-track pixel</span></div>
<div class="cb" style="left:1319px;top:130.0px;width:26px;height:608.7px"></div>
<div class="k" style="left:1345px;top:738.0px;width:7px;height:1.5px"></div>
<div class="t tick" style="letter-spacing:-1.2px;left:1359.5px;top:729.1px">0</div>
<div class="k" style="left:1345px;top:636.5px;width:7px;height:1.5px"></div>
<div class="t tick" style="letter-spacing:-1.2px;left:1359.5px;top:627.6px">100</div>
<div class="k" style="left:1345px;top:535.1px;width:7px;height:1.5px"></div>
<div class="t tick" style="letter-spacing:-1.2px;left:1359.5px;top:526.2px">200</div>
<div class="k" style="left:1345px;top:433.7px;width:7px;height:1.5px"></div>
<div class="t tick" style="letter-spacing:-1.2px;left:1359.5px;top:424.8px">300</div>
<div class="k" style="left:1345px;top:332.2px;width:7px;height:1.5px"></div>
<div class="t tick" style="letter-spacing:-1.2px;left:1359.5px;top:323.3px">400</div>
<div class="k" style="left:1345px;top:230.8px;width:7px;height:1.5px"></div>
<div class="t tick" style="letter-spacing:-1.2px;left:1359.5px;top:221.9px">500</div>
<div class="k" style="left:1345px;top:129.3px;width:7px;height:1.5px"></div>
<div class="t tick" style="letter-spacing:-1.2px;left:1359.5px;top:120.4px">600</div>
<div class="rot lab" style="left:1404px;top:434.9px;font-size:20px;letter-spacing:-0.6px"><span style="display:inline-block;transform:translateX(-50%)">VIS [W m<sup>−2</sup> sr<sup>−1</sup> um<sup>−1</sup>]</span></div>
<div class="t title" style="top:974.3px">MSI_NOM_1B NIR Radiance [W m<sup>−2</sup> sr<sup>−1</sup> um<sup>−1</sup>]&nbsp;&nbsp;&nbsp;&nbsp;2024-11-28&nbsp;&nbsp;&nbsp;&nbsp;14:05:32 - 14:17:27 UTC</div>
<div class="img" style="left:100.5px;top:1007.5px;width:1198.9px;height:608.8px;"><div style="left:0;top:0.00px;width:1200px;height:21.59px;background:linear-gradient(to right,#053061 0px,#053061 210px,#063264 219px,#063264 261px,#073467 270px,#073467 291px,#0a3b70 297px,#0a3b70 336px,#0c3d73 345px,#0c3d73 369px,#0d3f76 378px,#0d3f76 393px,#10457e 408px,#10457e 474px,#114781 483px,#114781 573px,#144e8a 576px,#1a5899 579px,#1b5a9c 591px,#1c5c9f 600px,#2065ab 609px,#1d5fa2 612px,#1c5c9f 621px,#1c5c9f 666px,#073467 669px,#073467 783px,#08366a 792px,#08366a 804px,#09386d 813px,#09386d 846px,#15508d 855px,#1b5a9c 861px,#1d5fa2 888px,#1e61a5 897px,#1f63a8 915px,#266caf 936px,#2a71b2 1026px,#2a71b2 1053px,#2369ad 1059px,#276eb0 1071px,#276eb0 1185px,#266caf 1188px,#3783bb 1191px,#6eaed2 1194px,#81bad8 1197px)"></div><div style="left:0;top:20.99px;width:1200px;height:21.59px;background:linear-gradient(to right,#053061 0px,#053061 210px,#063264 219px,#063264 261px,#073467 270px,#073467 291px,#0a3b70 297px,#0a3b70 336px,#0c3d73 345px,#0c3d73 369px,#0d3f76 378px,#0d3f76 393px,#10457e 408px,#10457e 474px,#114781 483px,#114781 573px,#144e8a 576px,#1a5899 579px,#1b5a9c 591px,#1c5c9f 600px,#2065ab 609px,#1d5fa2 612px,#1c5c9f 621px,#1c5c9f 666px,#073467 669px,#073467 783px,#08366a 792px,#08366a 804px,#09386d 813px,#09386d 846px,#195696 858px,#1b5a9c 861px,#1d5fa2 888px,#1e61a5 897px,#1f63a8 915px,#266caf 936px,#2a71b2 1041px,#2a71b2 1053px,#2369ad 1059px,#276eb0 1071px,#276eb0 1185px,#266caf 1188px,#3783bb 1191px,#6eaed2 1194px,#81bad8 1197px)"></div><div style="left:0;top:41.99px;width:1200px;height:21.59px;background:linear-gradient(to right,#053061 0px,#053061 210px,#063264 219px,#063264 261px,#073467 270px,#073467 291px,#09386d 300px,#0a3b70 318px,#0a3b70 336px,#0c3d73 345px,#0c3d73 369px,#0d3f76 378px,#0d3f76 393px,#10457e 408px,#10457e 474px,#114781 483px,#114781 573px,#144e8a 576px,#1a5899 579px,#1b5a9c 591px,#1c5c9f 600px,#2065ab 609px,#1d5fa2 612px,#1c5c9f 621px,#1c5c9f 666px,#073467 669px,#073467 783px,#08366a 792px,#08366a 804px,#09386d 813px,#09386d 846px,#185493 858px,#1b5a9c 864px,#1d5fa2 891px,#1e61a5 900px,#2267ac 927px,#266caf 939px,#2a71b2 1038px,#2a71b2 1053px,#2369ad 1059px,#276eb0 1071px,#276eb0 1185px,#266caf 1188px,#3783bb 1191px,#6eaed2 1194px,#81bad8 1197px)"></div><div style="left:0;top:62.98px;width:1200px;height:21.59px;background:linear-gradient(to right,#053061 0px,#053061 210px,#063264 219px,#063264 264px,#073467 273px,#073467 291px,#09386d 300px,#0a3b70 318px,#0a3b70 339px,#0c3d73 348px,#0c3d73 369px,#0d3f76 378px,#0d3f76 393px,#10457e 408px,#10457e 474px,#114781 483px,#114781 573px,#144e8a 576px,#1a5899 579px,#1b5a9c 591px,#1c5c9f 600px,#2065ab 609px,#1d5fa2 612px,#1c5c9f 621px,#1c5c9f 666px,#073467 669px,#073467 783px,#08366a 792px,#08366a 804px,#09386d 813px,#09386d 846px,#134c87 855px,#185493 858px,#1b5a9c 864px,#1d5fa2 891px,#1e61a5 900px,#2267ac 927px,#266caf 939px,#2a71b2 1038px,#2a71b2 1053px,#2369ad 1059px,#276eb0 1071px,#276eb0 1185px,#266caf 1188px,#3783bb 1191px,#6eaed2 1194px,#81bad8 1197px)"></div><div style="left:0;top:83.97px;width:1200px;height:21.59px;background:linear-gradient(to right,#053061 0px,#053061 210px,#063264 219px,#063264 264px,#073467 273px,#073467 291px,#09386d 300px,#0a3b70 318px,#0a3b70 339px,#0c3d73 348px,#0c3d73 369px,#0d3f76 378px,#0d3f76 393px,#10457e 408px,#10457e 474px,#114781 483px,#114781 573px,#144e8a 576px,#1a5899 579px,#1b5a9c 591px,#1c5c9f 600px,#2065ab 609px,#1d5fa2 612px,#1c5c9f 621px,#1c5c9f 666px,#073467 669px,#073467 783px,#08366a 792px,#08366a 804px,#09386d 813px,#09386d 846px,#124984 855px,#175290 858px,#1b5a9c 867px,#1c5c9f 876px,#1e61a5 903px,#1f63a8 912px,#2369ad 930px,#266caf 942px,#2a71b2 1038px,#2a71b2 1053px,#2369ad 1059px,#276eb0 1071px,#276eb0 1185px,#266caf 1188px,#3783bb 1191px,#6eaed2 1194px,#81bad8 1197px)"></div><div style="left:0;top:104.97px;width:1200px;height:21.59px;background:linear-gradient(to right,#053061 0px,#053061 210px,#063264 219px,#063264 264px,#073467 273px,#073467 291px,#09386d 300px,#0a3b70 327px,#0a3b70 339px,#0c3d73 348px,#0c3d73 372px,#0d3f76 381px,#0d3f76 393px,#10457e 408px,#10457e 474px,#114781 483px,#114781 573px,#144e8a 576px,#1a5899 579px,#1b5a9c 591px,#1c5c9f 600px,#2065ab 609px,#1d5fa2 612px,#1c5c9f 621px,#1c5c9f 666px,#073467 669px,#073467 783px,#08366a 792px,#08366a 804px,#09386d 813px,#09386d 846px,#124984 855px,#195696 861px,#1c5c9f 870px,#1c5c9f 879px,#1d5fa2 888px,#1f63a8 915px,#266caf 939px,#2a71b2 1038px,#2a71b2 1053px,#2369ad 1059px,#276eb0 1071px,#276eb0 1185px,#266caf 1188px,#3783bb 1191px,#6eaed2 1194px,#81bad8 1197px)"></div><div style="left:0;top:125.96px;width:1200px;height:21.59px;background:linear-gradient(to right,#053061 0px,#053061 210px,#063264 219px,#063264 264px,#073467 273px,#073467 291px,#09386d 300px,#0a3b70 327px,#0a3b70 339px,#0c3d73 348px,#0c3d73 372px,#0d3f76 381px,#0d3f76 393px,#10457e 408px,#10457e 474px,#114781 483px,#114781 573px,#144e8a 576px,#1a5899 579px,#1b5a9c 591px,#1c5c9f 600px,#2065ab 609px,#1d5fa2 612px,#1c5c9f 621px,#1c5c9f 666px,#073467 669px,#073467 783px,#08366a 792px,#08366a 804px,#09386d 813px,#09386d 846px,#144e8a 858px,#1a5899 864px,#1c5c9f 873px,#1d5fa2 891px,#1e61a5 900px,#1f63a8 918px,#266caf 939px,#2a71b2 1038px,#2a71b2 1053px,#2369ad 1059px,#276eb0 1071px,#276eb0 1185px,#266caf 1188px,#3783bb 1191px,#6eaed2 1194px,#81bad8 1197px)"></div><div style="left:0;top:146.95px;width:1200px;height:21.59px;background:linear-gradient(to right,#053061 0px,#053061 210px,#063264 219px,#063264 264px,#073467 273px,#073467 291px,#08366a 300px,#0a3b70 312px,#0a3b70 342px,#0c3d73 351px,#0c3d73 372px,#0d3f76 381px,#0d3f76 393px,#10457e 408px,#10457e 474px,#114781 483px,#114781 573px,#144e8a 576px,#1a5899 579px,#1b5a9c 591px,#1c5c9f 600px,#2065ab 609px,#1d5fa2 612px,#1c5c9f 621px,#1c5c9f 666px,#073467 669px,#073467 783px,#08366a 792px,#08366a 804px,#09386d 813px,#09386d 846px,#10457e 855px,#185493 861px,#1c5c9f 870px,#1c5c9f 882px,#1d5fa2 891px,#1f63a8 918px,#266caf 939px,#2a71b2 1038px,#2a71b2 1053px,#2369ad 1059px,#276eb0 1071px,#276eb0 1185px,#266caf 1188px,#3783bb 1191px,#6eaed2 1194px,#81bad8 1197px)"></div><div style="left:0;top:167.94px;width:1200px;height:21.59px;background:linear-gradient(to right,#053061 0px,#053061 210px,#063264 219px,#063264 267px,#073467 276px,#073467 291px,#08366a 300px,#0a3b70 312px,#0a3b70 342px,#0c3d73 351px,#0c3d73 372px,#0d3f76 381px,#0d3f76 393px,#10457e 408px,#10457e 474px,#114781 483px,#114781 573px,#144e8a 576px,#1a5899 579px,#1b5a9c 591px,#1c5c9f 600px,#2065ab 609px,#1d5fa2 612px,#1c5c9f 621px,#1c5c9f 666px,#073467 669px,#073467 783px,#08366a 792px,#08366a 804px,#09386d 813px,#09386d 846px,#0f437b 855px,#175290 861px,#1b5a9c 867px,#1d5fa2 894px,#1e61a5 903px,#2369ad 933px,#266caf 945px,#2a71b2 1035px,#2a71b2 1053px,#2369ad 1059px,#276eb0 1071px,#276eb0 1185px,#266caf 1188px,#3783bb 1191px,#6eaed2 1194px,#81bad8 1197px)"></div><div style="left:0;top:188.94px;width:1200px;height:21.59px;background:linear-gradient(to right,#053061 0px,#053061 210px,#063264 219px,#063264 267px,#073467 276px,#073467 291px,#08366a 300px,#0a3b70 312px,#0a3b70 342px,#0c3d73 351px,#0c3d73 372px,#0d3f76 381px,#0d3f76 393px,#10457e 408px,#10457e 474px,#114781 483px,#114781 573px,#144e8a 576px,#1a5899 579px,#1b5a9c 591px,#1c5c9f 600px,#2065ab 609px,#1d5fa2 612px,#1c5c9f 621px,#1c5c9f 666px,#073467 669px,#073467 783px,#08366a 792px,#08366a 804px,#09386d 813px,#09386d 846px,#0f437b 855px,#175290 861px,#1b5a9c 867px,#1d5fa2 894px,#1e61a5 903px,#2267ac 930px,#266caf 948px,#2a71b2 1032px,#2a71b2 1053px,#2369ad 1059px,#276eb0 1071px,#276eb0 1185px,#266caf 1188px,#3783bb 1191px,#6eaed2 1194px,#81bad8 1197px)"></div><div style="left:0;top:209.93px;width:1200px;height:21.59px;background:linear-gradient(to right,#053061 0px,#053061 210px,#063264 219px,#063264 267px,#073467 276px,#073467 294px,#09386d 306px,#0a3b70 315px,#0a3b70 342px,#0c3d73 351px,#0c3d73 372px,#0d3f76 381px,#0d3f76 393px,#10457e 408px,#10457e 474px,#114781 483px,#114781 573px,#144e8a 576px,#1a5899 579px,#1b5a9c 591px,#1c5c9f 600px,#2065ab 609px,#1d5fa2 612px,#1c5c9f 621px,#1c5c9f 666px,#073467 669px,#073467 783px,#08366a 792px,#08366a 804px,#09386d 813px,#09386d 846px,#0e4179 855px,#15508d 861px,#1b5a9c 867px,#1d5fa2 894px,#1e61a5 903px,#2267ac 930px,#266caf 948px,#2a71b2 1032px,#2a71b2 1053px,#2369ad 1059px,#276eb0 1071px,#276eb0 1185px,#266caf 1188px,#3783bb 1191px,#6eaed2 1194px,#81bad8 1197px)"></div><div style="left:0;top:230.92px;width:1200px;height:21.59px;background:linear-gradient(to right,#053061 0px,#053061 210px,#063264 219px,#063264 267px,#073467 276px,#073467 294px,#09386d 306px,#0a3b70 315px,#0a3b70 342px,#0c3d73 351px,#0c3d73 372px,#0d3f76 381px,#0d3f76 393px,#10457e 408px,#10457e 474px,#114781 483px,#114781 573px,#144e8a 576px,#1a5899 579px,#1b5a9c 591px,#1c5c9f 600px,#2065ab 609px,#1d5fa2 612px,#1c5c9f 621px,#1c5c9f 666px,#073467 669px,#073467 783px,#08366a 792px,#08366a 804px,#09386d 813px,#09386d 846px,#0d3f76 855px,#185493 864px,#1b5a9c 867px,#1d5fa2 894px,#1e61a5 903px,#1f63a8 921px,#266caf 942px,#2a71b2 1038px,#2a71b2 1053px,#2369ad 1059px,#276eb0 1071px,#276eb0 1185px,#266caf 1188px,#3783bb 1191px,#6eaed2 1194px,#81bad8 1197px)"></div><div style="left:0;top:251.92px;width:1200px;height:21.59px;background:linear-gradient(to right,#053061 0px,#053061 210px,#063264 219px,#063264 267px,#073467 276px,#073467 303px,#0a3b70 309px,#0a3b70 345px,#0c3d73 354px,#0c3d73 372px,#0d3f76 381px,#0d3f76 393px,#10457e 408px,#10457e 474px,#114781 483px,#114781 573px,#144e8a 576px,#1a5899 579px,#1b5a9c 591px,#1c5c9f 600px,#2065ab 609px,#1d5fa2 612px,#1c5c9f 621px,#1c5c9f 666px,#073467 669px,#073467 783px,#08366a 792px,#08366a 804px,#09386d 813px,#09386d 846px,#0c3d73 855px,#185493 864px,#1b5a9c 867px,#1c5c9f 885px,#1d5fa2 894px,#1f63a8 921px,#266caf 945px,#2a71b2 1035px,#2a71b2 1053px,#2369ad 1059px,#276eb0 1071px,#276eb0 1185px,#266caf 1188px,#3783bb 1191px,#6eaed2 1194px,#81bad8 1197px)"></div><div style="left:0;top:272.91px;width:1200px;height:21.59px;background:linear-gradient(to right,#053061 0px,#053061 210px,#063264 219px,#063264 270px,#073467 279px,#073467 303px,#0a3b70 309px,#0a3b70 345px,#0c3d73 354px,#0c3d73 372px,#0d3f76 381px,#0d3f76 393px,#10457e 408px,#10457e 474px,#114781 483px,#114781 573px,#144e8a 576px,#1a5899 579px,#1b5a9c 591px,#1c5c9f 600px,#2065ab 609px,#1d5fa2 612px,#1c5c9f 621px,#1c5c9f 666px,#073467 669px,#073467 783px,#08366a 792px,#08366a 804px,#09386d 813px,#09386d 849px,#0c3d73 855px,#1b5a9c 867px,#1c5c9f 885px,#1d5fa2 894px,#1f63a8 921px,#266caf 945px,#2a71b2 1035px,#2a71b2 1053px,#2369ad 1059px,#276eb0 1071px,#276eb0 1185px,#266caf 1188px,#3783bb 1191px,#6eaed2 1194px,#81bad8 1197px)"></div><div style="left:0;top:293.90px;width:1200px;height:21.59px;background:linear-gradient(to right,#053061 0px,#053061 210px,#063264 219px,#063264 270px,#073467 279px,#073467 303px,#0a3b70 309px,#0a3b70 345px,#0c3d73 354px,#0c3d73 372px,#0d3f76 381px,#0d3f76 393px,#10457e 408px,#10457e 474px,#114781 483px,#114781 573px,#144e8a 576px,#1a5899 579px,#1b5a9c 591px,#1c5c9f 600px,#2065ab 609px,#1d5fa2 612px,#1c5c9f 621px,#1c5c9f 666px,#073467 669px,#073467 783px,#08366a 792px,#08366a 804px,#09386d 813px,#09386d 852px,#0a3b70 855px,#175290 864px,#1a5899 867px,#1c5c9f 879px,#1d5fa2 897px,#1e61a5 906px,#2267ac 933px,#266caf 945px,#2a71b2 1035px,#2a71b2 1053px,#2369ad 1059px,#276eb0 1071px,#276eb0 1185px,#266caf 1188px,#3783bb 1191px,#6eaed2 1194px,#81bad8 1197px)"></div><div style="left:0;top:314.90px;width:1200px;height:21.59px;background:linear-gradient(to right,#053061 0px,#053061 213px,#063264 222px,#063264 270px,#073467 279px,#073467 303px,#09386d 306px,#0a3b70 324px,#0a3b70 345px,#0c3d73 354px,#0c3d73 372px,#0d3f76 381px,#0d3f76 393px,#10457e 408px,#10457e 474px,#114781 483px,#114781 573px,#144e8a 576px,#1a5899 579px,#1b5a9c 591px,#1c5c9f 600px,#2065ab 609px,#1d5fa2 612px,#1c5c9f 621px,#1c5c9f 666px,#073467 669px,#073467 783px,#08366a 792px,#08366a 807px,#09386d 816px,#09386d 852px,#0a3b70 855px,#1a5899 867px,#1c5c9f 879px,#1d5fa2 897px,#1e61a5 906px,#2267ac 933px,#266caf 945px,#2a71b2 1044px,#2a71b2 1053px,#2369ad 1059px,#276eb0 1071px,#276eb0 1185px,#266caf 1188px,#3783bb 1191px,#6eaed2 1194px,#81bad8 1197px)"></div><div style="left:0;top:335.89px;width:1200px;height:21.59px;background:linear-gradient(to right,#053061 0px,#053061 213px,#063264 222px,#063264 270px,#073467 279px,#073467 303px,#09386d 312px,#0a3b70 330px,#0a3b70 348px,#0c3d73 357px,#0c3d73 375px,#0d3f76 384px,#0d3f76 393px,#10457e 408px,#10457e 474px,#114781 483px,#114781 573px,#144e8a 576px,#1a5899 579px,#1b5a9c 591px,#1c5c9f 600px,#2065ab 609px,#1d5fa2 612px,#1c5c9f 621px,#1c5c9f 666px,#073467 669px,#073467 783px,#08366a 792px,#08366a 807px,#09386d 816px,#09386d 852px,#0a3b70 855px,#195696 867px,#1c5c9f 876px,#1c5c9f 885px,#1d5fa2 894px,#1f63a8 921px,#266caf 945px,#2a71b2 1044px,#2a71b2 1053px,#2369ad 1059px,#276eb0 1071px,#276eb0 1185px,#266caf 1188px,#3783bb 1191px,#6eaed2 1194px,#81bad8 1197px)"></div><div style="left:0;top:356.88px;width:1200px;height:21.59px;background:linear-gradient(to right,#053061 0px,#053061 213px,#063264 222px,#063264 270px,#073467 279px,#073467 303px,#09386d 312px,#0a3b70 330px,#0a3b70 348px,#0c3d73 357px,#0c3d73 375px,#0d3f76 384px,#0d3f76 393px,#10457e 408px,#10457e 474px,#114781 483px,#114781 573px,#144e8a 576px,#1a5899 579px,#1b5a9c 591px,#1c5c9f 600px,#2065ab 609px,#1d5fa2 612px,#1c5c9f 621px,#1c5c9f 666px,#073467 669px,#073467 783px,#08366a 792px,#08366a 807px,#09386d 816px,#09386d 852px,#0a3b70 855px,#185493 867px,#1c5c9f 876px,#1c5c9f 885px,#1d5fa2 894px,#1e61a5 912px,#1f63a8 921px,#266caf 951px,#2a71b2 1041px,#2a71b2 1053px,#2369ad 1059px,#276eb0 1071px,#276eb0 1185px,#266caf 1188px,#3783bb 1191px,#6eaed2 1194px,#81bad8 1197px)"></div><div style="left:0;top:377.88px;width:1200px;height:21.59px;background:linear-gradient(to right,#053061 0px,#053061 213px,#063264 222px,#063264 273px,#073467 282px,#073467 303px,#09386d 312px,#0a3b70 339px,#0a3b70 348px,#0c3d73 357px,#0c3d73 375px,#0d3f76 384px,#0d3f76 393px,#10457e 408px,#10457e 474px,#114781 483px,#114781 573px,#144e8a 576px,#1a5899 579px,#1b5a9c 591px,#1c5c9f 600px,#2065ab 609px,#1d5fa2 612px,#1c5c9f 621px,#1c5c9f 666px,#073467 669px,#073467 783px,#08366a 792px,#08366a 807px,#09386d 816px,#09386d 852px,#0d3f76 858px,#185493 867px,#1c5c9f 879px,#1c5c9f 888px,#1d5fa2 897px,#1f63a8 924px,#266caf 945px,#2a71b2 1044px,#2a71b2 1053px,#2369ad 1059px,#276eb0 1071px,#276eb0 1185px,#266caf 1188px,#3783bb 1191px,#6eaed2 1194px,#81bad8 1197px)"></div><div style="left:0;top:398.87px;width:1200px;height:21.59px;background:linear-gradient(to right,#053061 0px,#053061 213px,#063264 222px,#063264 273px,#073467 282px,#073467 303px,#09386d 312px,#0a3b70 339px,#0a3b70 348px,#0c3d73 357px,#0c3d73 375px,#0d3f76 384px,#0d3f76 393px,#10457e 408px,#10457e 474px,#114781 483px,#114781 573px,#144e8a 576px,#1a5899 579px,#1b5a9c 591px,#1c5c9f 600px,#2065ab 609px,#1d5fa2 612px,#1c5c9f 621px,#1c5c9f 666px,#073467 669px,#073467 783px,#08366a 792px,#08366a 807px,#09386d 816px,#09386d 852px,#0d3f76 858px,#124984 864px,#175290 867px,#1b5a9c 876px,#1c5c9f 885px,#1e61a5 912px,#1f63a8 921px,#2369ad 939px,#276eb0 969px,#2a71b2 1053px,#2369ad 1059px,#276eb0 1071px,#276eb0 1185px,#266caf 1188px,#3783bb 1191px,#6eaed2 1194px,#81bad8 1197px)"></div><div style="left:0;top:419.86px;width:1200px;height:21.59px;background:linear-gradient(to right,#053061 0px,#053061 213px,#063264 222px,#063264 273px,#073467 282px,#073467 303px,#09386d 315px,#0a3b70 333px,#0a3b70 351px,#0c3d73 360px,#0c3d73 375px,#0d3f76 384px,#0d3f76 393px,#10457e 408px,#10457e 474px,#114781 483px,#114781 573px,#144e8a 576px,#1a5899 579px,#1b5a9c 591px,#1c5c9f 600px,#2065ab 609px,#1d5fa2 612px,#1c5c9f 621px,#1c5c9f 666px,#073467 669px,#073467 783px,#08366a 792px,#08366a 807px,#09386d 816px,#09386d 855px,#185493 870px,#1c5c9f 879px,#1c5c9f 888px,#1d5fa2 897px,#1f63a8 924px,#266caf 948px,#2a71b2 1044px,#2a71b2 1053px,#2369ad 1059px,#276eb0 1071px,#276eb0 1185px,#266caf 1188px,#3783bb 1191px,#6eaed2 1194px,#81bad8 1197px)"></div><div style="left:0;top:440.86px;width:1200px;height:21.59px;background:linear-gradient(to right,#053061 0px,#053061 213px,#063264 222px,#063264 273px,#073467 282px,#073467 303px,#08366a 312px,#0a3b70 324px,#0a3b70 351px,#0c3d73 360px,#0c3d73 375px,#0d3f76 384px,#0d3f76 393px,#10457e 408px,#10457e 474px,#114781 483px,#114781 573px,#144e8a 576px,#1a5899 579px,#1b5a9c 591px,#1c5c9f 600px,#2065ab 609px,#1d5fa2 612px,#1c5c9f 621px,#1c5c9f 666px,#073467 669px,#073467 783px,#08366a 792px,#08366a 807px,#09386d 816px,#09386d 855px,#114781 864px,#15508d 867px,#1b5a9c 876px,#1c5c9f 885px,#1e61a5 912px,#1f63a8 921px,#2369ad 939px,#276eb0 969px,#2a71b2 1053px,#2369ad 1059px,#276eb0 1071px,#276eb0 1185px,#266caf 1188px,#3783bb 1191px,#6eaed2 1194px,#81bad8 1197px)"></div><div style="left:0;top:461.85px;width:1200px;height:21.59px;background:linear-gradient(to right,#053061 0px,#053061 213px,#063264 222px,#063264 273px,#073467 282px,#073467 303px,#08366a 312px,#0a3b70 324px,#0a3b70 351px,#0c3d73 360px,#0c3d73 375px,#0d3f76 384px,#0d3f76 393px,#10457e 408px,#10457e 474px,#114781 483px,#114781 573px,#144e8a 576px,#1a5899 579px,#1b5a9c 591px,#1c5c9f 600px,#2065ab 609px,#1d5fa2 612px,#1c5c9f 621px,#1c5c9f 666px,#073467 669px,#073467 783px,#08366a 792px,#08366a 807px,#09386d 816px,#09386d 855px,#10457e 864px,#185493 870px,#1c5c9f 879px,#1c5c9f 888px,#1d5fa2 897px,#1e61a5 915px,#1f63a8 924px,#266caf 954px,#2a71b2 1038px,#2a71b2 1053px,#2369ad 1059px,#276eb0 1071px,#276eb0 1185px,#266caf 1188px,#3783bb 1191px,#6eaed2 1194px,#81bad8 1197px)"></div><div style="left:0;top:482.84px;width:1200px;height:21.59px;background:linear-gradient(to right,#053061 0px,#053061 213px,#063264 222px,#063264 276px,#073467 285px,#073467 303px,#08366a 312px,#0a3b70 324px,#0a3b70 351px,#0c3d73 360px,#0c3d73 375px,#0d3f76 384px,#0d3f76 393px,#10457e 408px,#10457e 474px,#114781 483px,#114781 573px,#144e8a 576px,#1a5899 579px,#1b5a9c 591px,#1c5c9f 600px,#2065ab 609px,#1d5fa2 612px,#1c5c9f 621px,#1c5c9f 666px,#073467 669px,#073467 783px,#08366a 792px,#08366a 807px,#09386d 816px,#09386d 855px,#0d3f76 861px,#175290 870px,#1b5a9c 876px,#1d5fa2 903px,#1e61a5 912px,#2369ad 942px,#266caf 954px,#2a71b2 1038px,#2a71b2 1053px,#2369ad 1059px,#276eb0 1071px,#276eb0 1185px,#266caf 1188px,#3783bb 1191px,#6eaed2 1194px,#81bad8 1197px)"></div><div style="left:0;top:503.83px;width:1200px;height:21.59px;background:linear-gradient(to right,#053061 0px,#053061 213px,#063264 222px,#063264 276px,#073467 285px,#073467 306px,#09386d 318px,#0a3b70 327px,#0a3b70 354px,#0c3d73 363px,#0c3d73 375px,#0d3f76 384px,#0d3f76 393px,#10457e 408px,#10457e 474px,#114781 483px,#114781 573px,#144e8a 576px,#1a5899 579px,#1b5a9c 591px,#1c5c9f 600px,#2065ab 609px,#1d5fa2 612px,#1c5c9f 621px,#1c5c9f 666px,#073467 669px,#073467 783px,#08366a 792px,#08366a 807px,#09386d 816px,#09386d 855px,#0c3d73 861px,#175290 870px,#1b5a9c 876px,#1d5fa2 903px,#1e61a5 912px,#2267ac 939px,#266caf 951px,#2a71b2 1041px,#2a71b2 1053px,#2369ad 1059px,#276eb0 1071px,#276eb0 1185px,#266caf 1188px,#3783bb 1191px,#6eaed2 1194px,#81bad8 1197px)"></div><div style="left:0;top:524.83px;width:1200px;height:21.59px;background:linear-gradient(to right,#053061 0px,#053061 213px,#063264 222px,#063264 276px,#073467 285px,#073467 309px,#0a3b70 324px,#0a3b70 354px,#0c3d73 363px,#0c3d73 375px,#0d3f76 384px,#0d3f76 393px,#10457e 408px,#10457e 474px,#114781 483px,#114781 573px,#144e8a 576px,#1a5899 579px,#1b5a9c 591px,#1c5c9f 600px,#2065ab 609px,#1d5fa2 612px,#1c5c9f 621px,#1c5c9f 666px,#073467 669px,#073467 783px,#08366a 792px,#08366a 807px,#09386d 816px,#09386d 855px,#0e4179 864px,#195696 873px,#1b5a9c 876px,#1d5fa2 903px,#1e61a5 912px,#2267ac 939px,#266caf 951px,#2a71b2 1041px,#2a71b2 1053px,#2369ad 1059px,#276eb0 1071px,#276eb0 1185px,#266caf 1188px,#3783bb 1191px,#6eaed2 1194px,#81bad8 1197px)"></div><div style="left:0;top:545.82px;width:1200px;height:21.59px;background:linear-gradient(to right,#053061 0px,#053061 213px,#063264 222px,#063264 276px,#073467 285px,#073467 315px,#0a3b70 321px,#0a3b70 354px,#0c3d73 363px,#0c3d73 378px,#0d3f76 387px,#0e4179 399px,#10457e 408px,#10457e 474px,#114781 483px,#114781 573px,#144e8a 576px,#1a5899 579px,#1b5a9c 591px,#1c5c9f 600px,#2065ab 609px,#1d5fa2 612px,#1c5c9f 621px,#1c5c9f 666px,#073467 669px,#073467 783px,#08366a 792px,#08366a 807px,#09386d 816px,#09386d 855px,#0a3b70 861px,#0d3f76 864px,#195696 873px,#1b5a9c 876px,#1d5fa2 903px,#1e61a5 912px,#1f63a8 930px,#266caf 951px,#2a71b2 1041px,#2a71b2 1053px,#2369ad 1059px,#276eb0 1071px,#276eb0 1185px,#266caf 1188px,#3783bb 1191px,#6eaed2 1194px,#81bad8 1197px)"></div><div style="left:0;top:566.81px;width:1200px;height:21.59px;background:linear-gradient(to right,#053061 0px,#053061 213px,#063264 222px,#063264 276px,#073467 285px,#073467 315px,#0a3b70 321px,#0a3b70 354px,#0c3d73 363px,#0c3d73 378px,#0d3f76 387px,#0e4179 399px,#10457e 408px,#10457e 474px,#114781 483px,#114781 573px,#144e8a 576px,#1a5899 579px,#1b5a9c 591px,#1c5c9f 600px,#2065ab 609px,#1d5fa2 612px,#1c5c9f 621px,#1c5c9f 666px,#073467 669px,#073467 783px,#08366a 792px,#08366a 807px,#09386d 816px,#09386d 861px,#1b5a9c 876px,#1d5fa2 903px,#1f63a8 930px,#266caf 954px,#2a71b2 1038px,#2a71b2 1053px,#2369ad 1059px,#276eb0 1071px,#276eb0 1185px,#266caf 1188px,#3783bb 1191px,#6eaed2 1194px,#81bad8 1197px)"></div><div style="left:0;top:587.81px;width:1200px;height:21.59px;background:linear-gradient(to right,#053061 0px,#053061 213px,#063264 222px,#063264 279px,#073467 288px,#073467 315px,#0a3b70 321px,#0a3b70 354px,#0c3d73 363px,#0c3d73 378px,#0d3f76 387px,#0e4179 399px,#10457e 408px,#10457e 474px,#114781 483px,#114781 573px,#144e8a 576px,#1a5899 579px,#1b5a9c 591px,#1c5c9f 600px,#2065ab 609px,#1d5fa2 612px,#1c5c9f 621px,#1c5c9f 666px,#073467 669px,#073467 783px,#08366a 792px,#08366a 807px,#09386d 816px,#09386d 861px,#0c3d73 864px,#185493 873px,#1b5a9c 876px,#1c5c9f 894px,#1d5fa2 903px,#1f63a8 930px,#266caf 954px,#2a71b2 1038px,#2a71b2 1053px,#2369ad 1059px,#276eb0 1071px,#276eb0 1185px,#266caf 1188px,#3783bb 1191px,#6eaed2 1194px,#81bad8 1197px)"></div><div style="left:0;top:0;width:1200px;height:609px;background:#1c5c9f;clip-path:polygon(678.5px -6.1px,679.5px 377.5px,683.5px 414.0px,688.5px 487.0px,694.5px 554.0px,694.5px 614.9px,662.5px 614.9px,662.5px -6.1px)"></div><div style="left:0;top:0;width:1200px;height:609px;background:#144e8a;clip-path:polygon(722.6px 407.9px,733.8px 614.9px,694.5px 614.9px,696.3px 554.0px,713.2px 430.4px)"></div><div style="left:0;top:0;width:1200px;height:609px;background:#114781;clip-path:polygon(777.5px -6.1px,788.5px -6.1px,790.5px 219.2px,790.5px 365.3px,785.5px 432.2px,776.5px 365.3px,775.5px 219.2px)"></div><div style="left:0;top:0;width:1200px;height:609px;background:#0d3f76;clip-path:polygon(797.5px 274.0px,829.5px 243.5px,837.5px 547.9px,804.5px 578.4px)"></div><div class="tex" style="-webkit-mask-image:linear-gradient(to right,transparent 25%,#000 33%,#000 56.3%,transparent 56.9%,transparent 70.8%,rgba(0,0,0,.4) 71.8%);mask-image:linear-gradient(to right,transparent 25%,#000 33%,#000 56.3%,transparent 56.9%,transparent 70.8%,rgba(0,0,0,.4) 71.8%);"><svg width="1200" height="609"><filter id="n1" x="0" y="0" width="100%" height="100%"><feTurbulence type="fractalNoise" baseFrequency="0.42 0.022" numOctaves="2" seed="4"/><feColorMatrix type="matrix" values="0 0 0 0 0  0 0 0 0 0  0 0 0 0 0  2.2 0 0 0 -1.25"/><feComposite in="SourceGraphic" operator="in"/></filter><rect width="1200" height="609" fill="#50aaf0" filter="url(#n1)"/></svg></div></div>
<div class="ax" style="left:99.85px;top:1006.85px;width:1200.20px;height:610.10px;"></div>
<div class="k" style="left:92.8px;top:1615.6px;width:7px;height:1.5px"></div>
<div class="t tick" style="letter-spacing:-1.2px;right:1366.0px;top:1606.7px">0</div>
<div class="k" style="left:92.8px;top:1524.4px;width:7px;height:1.5px"></div>
<div class="t tick" style="letter-spacing:-1.2px;right:1366.0px;top:1515.5px">50</div>
<div class="k" style="left:92.8px;top:1433.2px;width:7px;height:1.5px"></div>
<div class="t tick" style="letter-spacing:-1.2px;right:1366.0px;top:1424.3px">100</div>
<div class="k" style="left:92.8px;top:1342.0px;width:7px;height:1.5px"></div>
<div class="t tick" style="letter-spacing:-1.2px;right:1366.0px;top:1333.1px">150</div>
<div class="k" style="left:92.8px;top:1250.9px;width:7px;height:1.5px"></div>
<div class="t tick" style="letter-spacing:-1.2px;right:1366.0px;top:1242.0px">200</div>
<div class="k" style="left:92.8px;top:1159.7px;width:7px;height:1.5px"></div>
<div class="t tick" style="letter-spacing:-1.2px;right:1366.0px;top:1150.8px">250</div>
<div class="k" style="left:92.8px;top:1068.5px;width:7px;height:1.5px"></div>
<div class="t tick" style="letter-spacing:-1.2px;right:1366.0px;top:1059.6px">300</div>
<div class="k" style="left:99.8px;top:1617.0px;width:1.5px;height:7px"></div>
<div class="t tick" style="left:0.5px;width:200px;text-align:center;top:1628.8px">14:05:32</div>
<div class="k" style="left:399.52500000000003px;top:1617.0px;width:1.5px;height:7px"></div>
<div class="t tick" style="left:300.225px;width:200px;text-align:center;top:1628.8px">14:08:31</div>
<div class="k" style="left:699.25px;top:1617.0px;width:1.5px;height:7px"></div>
<div class="t tick" style="left:599.95px;width:200px;text-align:center;top:1628.8px">14:11:30</div>
<div class="k" style="left:998.975px;top:1617.0px;width:1.5px;height:7px"></div>
<div class="t tick" style="left:899.6750000000001px;width:200px;text-align:center;top:1628.8px">14:14:28</div>
<div class="k" style="left:1298.7px;top:1617.0px;width:1.5px;height:7px"></div>
<div class="t tick" style="left:1199.4px;width:200px;text-align:center;top:1628.8px">14:17:27</div>
<div class="rot lab" style="left:19px;top:1311.9px;font-size:22px;letter-spacing:-0.6px"><span style="display:inline-block;transform:translateX(-50%)">Across-track pixel</span></div>
<div class="cb" style="left:1319px;top:1007.0px;width:26px;height:608.7px"></div>
<div class="k" style="left:1345px;top:1615.0px;width:7px;height:1.5px"></div>
<div class="t tick" style="letter-spacing:-1.2px;left:1359.5px;top:1606.1px">0</div>
<div class="k" style="left:1345px;top:1513.5px;width:7px;height:1.5px"></div>
<div class="t tick" style="letter-spacing:-1.2px;left:1359.5px;top:1504.7px">100</div>
<div class="k" style="left:1345px;top:1412.1px;width:7px;height:1.5px"></div>
<div class="t tick" style="letter-spacing:-1.2px;left:1359.5px;top:1403.2px">200</div>
<div class="k" style="left:1345px;top:1310.6px;width:7px;height:1.5px"></div>
<div class="t tick" style="letter-spacing:-1.2px;left:1359.5px;top:1301.8px">300</div>
<div class="k" style="left:1345px;top:1209.2px;width:7px;height:1.5px"></div>
<div class="t tick" style="letter-spacing:-1.2px;left:1359.5px;top:1200.3px">400</div>
<div class="k" style="left:1345px;top:1107.8px;width:7px;height:1.5px"></div>
<div class="t tick" style="letter-spacing:-1.2px;left:1359.5px;top:1098.9px">500</div>
<div class="k" style="left:1345px;top:1006.3px;width:7px;height:1.5px"></div>
<div class="t tick" style="letter-spacing:-1.2px;left:1359.5px;top:997.4px">600</div>
<div class="rot lab" style="left:1404px;top:1311.9px;font-size:20px;letter-spacing:-0.6px"><span style="display:inline-block;transform:translateX(-50%)">NIR [W m<sup>−2</sup> sr<sup>−1</sup> um<sup>−1</sup>]</span></div>
<div class="t title" style="top:1851.3px">MSI_NOM_1B SWIR 1 Radiance [W m<sup>−2</sup> sr<sup>−1</sup> um<sup>−1</sup>]&nbsp;&nbsp;&nbsp;&nbsp;2024-11-28&nbsp;&nbsp;&nbsp;&nbsp;14:05:32 - 14:17:27 UTC</div>
<div class="img" style="left:100.5px;top:1884.5px;width:1198.9px;height:608.8px;"><div style="left:0;top:0.00px;width:1200px;height:21.59px;background:linear-gradient(to right,#053061 0px,#053061 288px,#063264 291px,#0a3b70 294px,#0d3f76 297px,#0d3f76 324px,#0e4179 333px,#0e4179 393px,#134c87 402px,#134c87 474px,#144e8a 483px,#175290 510px,#175290 570px,#185493 576px,#1f63a8 579px,#3a87bd 582px,#4291c2 603px,#68abd0 606px,#98c8e0 609px,#3c8abe 612px,#307ab6 615px,#2b73b3 618px,#2a71b2 666px,#0a3b70 669px,#0a3b70 786px,#0c3d73 795px,#0c3d73 819px,#0d3f76 828px,#0d3f76 849px,#266caf 852px,#2f79b5 855px,#408fc1 864px,#569fc9 870px,#6eaed2 876px,#98c8e0 891px,#d1e5f0 918px,#e0ecf3 933px,#f0f4f6 960px,#f6f7f7 978px,#fae9df 993px,#f9c6ac 996px,#f5aa89 999px,#f4a683 1032px,#f3a481 1038px,#f5ac8b 1041px,#fcd5bf 1050px,#fdddcb 1053px,#fce0d0 1056px,#fddcc9 1068px,#fbccb4 1074px,#f9c4a9 1095px,#f7b799 1110px,#f19e7d 1119px,#ec9374 1155px,#e8896c 1173px,#d55d4c 1182px,#c13639 1191px,#b61f2e 1197px)"></div><div style="left:0;top:20.99px;width:1200px;height:21.59px;background:linear-gradient(to right,#053061 0px,#053061 288px,#063264 291px,#0a3b70 294px,#0d3f76 297px,#0d3f76 324px,#0e4179 333px,#0e4179 393px,#134c87 402px,#134c87 474px,#144e8a 483px,#175290 510px,#175290 570px,#185493 576px,#1f63a8 579px,#3a87bd 582px,#4291c2 603px,#68abd0 606px,#98c8e0 609px,#3c8abe 612px,#307ab6 615px,#2b73b3 618px,#2a71b2 666px,#0a3b70 669px,#0a3b70 786px,#0c3d73 795px,#0c3d73 819px,#0d3f76 828px,#0d3f76 849px,#246aae 852px,#2f79b5 855px,#408fc1 864px,#569fc9 870px,#6eaed2 876px,#98c8e0 891px,#d1e5f0 918px,#e0ecf3 933px,#eff3f5 957px,#f6f7f7 978px,#fae9df 993px,#f9c6ac 996px,#f5aa89 999px,#f4a683 1032px,#f3a481 1038px,#f5ac8b 1041px,#fcd5bf 1050px,#fcdecd 1053px,#fce2d2 1056px,#fce2d2 1062px,#fddcc9 1068px,#fbccb4 1074px,#f9c4a9 1095px,#f7b799 1110px,#f19e7d 1119px,#ec9374 1155px,#e98b6e 1170px,#e6866a 1173px,#da6853 1179px,#d7634f 1185px,#d86551 1188px,#df765e 1191px,#e27b62 1194px,#e17860 1197px)"></div><div style="left:0;top:41.99px;width:1200px;height:21.59px;background:linear-gradient(to right,#053061 0px,#053061 288px,#063264 291px,#0a3b70 294px,#0d3f76 297px,#0d3f76 324px,#0e4179 333px,#0e4179 393px,#134c87 402px,#134c87 474px,#144e8a 483px,#175290 510px,#175290 570px,#185493 576px,#1f63a8 579px,#3a87bd 582px,#4291c2 603px,#68abd0 606px,#98c8e0 609px,#3c8abe 612px,#307ab6 615px,#2b73b3 618px,#2a71b2 666px,#0a3b70 669px,#0a3b70 786px,#0c3d73 795px,#0c3d73 816px,#0d3f76 825px,#0d3f76 849px,#2369ad 852px,#2c75b4 855px,#4695c4 867px,#6bacd1 876px,#7eb8d7 882px,#9dcbe1 894px,#d1e5f0 918px,#eaf1f5 948px,#f6f7f7 978px,#fae9df 993px,#f9c6ac 996px,#f5aa89 999px,#f4a683 1032px,#f3a481 1038px,#f5ac8b 1041px,#fcd7c2 1050px,#fcdfcf 1053px,#fbe6da 1059px,#fbe6da 1062px,#fcd5bf 1071px,#fbccb4 1074px,#f9c4a9 1095px,#f7b799 1110px,#f19e7d 1119px,#ec9374 1155px,#e8896c 1170px,#e58368 1173px,#d7634f 1179px,#dd7059 1182px,#e58368 1185px,#f09c7b 1188px,#facab1 1191px,#fcdfcf 1194px,#fbe3d4 1197px)"></div><div style="left:0;top:62.98px;width:1200px;height:21.59px;background:linear-gradient(to right,#053061 0px,#053061 288px,#063264 291px,#0c3d73 297px,#0d3f76 315px,#0d3f76 327px,#0e4179 336px,#0e4179 393px,#134c87 402px,#134c87 474px,#144e8a 483px,#175290 510px,#175290 570px,#185493 576px,#1f63a8 579px,#3a87bd 582px,#4291c2 603px,#68abd0 606px,#98c8e0 609px,#3c8abe 612px,#307ab6 615px,#2b73b3 618px,#2a71b2 666px,#0a3b70 669px,#0a3b70 786px,#0c3d73 795px,#0c3d73 813px,#0d3f76 822px,#0d3f76 849px,#2065ab 852px,#2a71b2 855px,#4393c3 867px,#68abd0 876px,#7bb6d6 882px,#a2cde3 897px,#cfe4ef 918px,#dbeaf2 930px,#edf2f5 957px,#f6f7f7 978px,#fae9df 993px,#f9c6ac 996px,#f5aa89 999px,#f4a683 1032px,#f3a481 1038px,#f5ac8b 1041px,#fcd7c2 1050px,#fce0d0 1053px,#fae7dc 1059px,#fae8de 1062px,#fcd5bf 1071px,#fbccb4 1074px,#f9c4a9 1095px,#f7b799 1110px,#f19e7d 1119px,#ec9374 1155px,#e8896c 1170px,#e48066 1173px,#d7634f 1179px,#e17860 1182px,#ec9374 1185px,#f7b596 1188px,#fbe5d8 1191px,#f7f5f4 1194px,#f3f5f6 1197px)"></div><div style="left:0;top:83.97px;width:1200px;height:21.59px;background:linear-gradient(to right,#053061 0px,#053061 288px,#063264 291px,#09386d 294px,#0d3f76 303px,#0d3f76 327px,#0e4179 336px,#0e4179 393px,#134c87 402px,#134c87 474px,#144e8a 483px,#175290 510px,#175290 570px,#185493 576px,#1f63a8 579px,#3a87bd 582px,#4291c2 603px,#68abd0 606px,#98c8e0 609px,#3c8abe 612px,#307ab6 615px,#2b73b3 618px,#2a71b2 666px,#0a3b70 669px,#0a3b70 783px,#0c3d73 792px,#0c3d73 810px,#0d3f76 819px,#0d3f76 849px,#1f63a8 852px,#2c75b4 858px,#3681ba 861px,#4291c2 867px,#6eaed2 879px,#81bad8 885px,#a7d0e4 900px,#d2e6f0 921px,#ecf2f5 954px,#f6f7f7 978px,#fae9df 993px,#f9c6ac 996px,#f5aa89 999px,#f4a683 1032px,#f3a481 1038px,#f5ac8b 1041px,#fcd7c2 1050px,#fce0d0 1053px,#fbe6da 1056px,#fae9df 1062px,#fddcc9 1068px,#fbccb4 1074px,#f9c4a9 1095px,#f7b799 1110px,#f19e7d 1119px,#ec9374 1155px,#e8896c 1170px,#e37e64 1173px,#dc6e57 1176px,#d86551 1179px,#ef9979 1185px,#f8bfa4 1188px,#faeae1 1191px,#f6f7f7 1194px,#f0f4f6 1197px)"></div><div style="left:0;top:104.97px;width:1200px;height:21.59px;background:linear-gradient(to right,#053061 0px,#053061 288px,#0c3d73 300px,#0d3f76 318px,#0d3f76 327px,#0e4179 336px,#0e4179 393px,#134c87 402px,#134c87 474px,#144e8a 483px,#175290 510px,#175290 570px,#185493 576px,#1f63a8 579px,#3a87bd 582px,#4291c2 603px,#68abd0 606px,#98c8e0 609px,#3c8abe 612px,#307ab6 615px,#2b73b3 618px,#2a71b2 666px,#0a3b70 669px,#0a3b70 783px,#0c3d73 792px,#0c3d73 807px,#0d3f76 816px,#0d3f76 849px,#1d5fa2 852px,#2369ad 855px,#408fc1 867px,#569fc9 873px,#6bacd1 879px,#90c4dd 891px,#cce2ef 918px,#deebf2 936px,#ecf2f5 954px,#f5f6f7 978px,#f9ede5 990px,#fae9df 993px,#f9c6ac 996px,#f5aa89 999px,#f4a683 1032px,#f3a481 1038px,#f5ac8b 1041px,#fcd7c2 1050px,#fae7dc 1056px,#faeae1 1062px,#fce2d2 1065px,#fbccb4 1074px,#f9c4a9 1095px,#f7b799 1110px,#f19e7d 1119px,#ec9374 1155px,#e8896c 1170px,#db6b55 1176px,#db6b55 1179px,#e58368 1182px,#f2a17f 1185px,#facab1 1188px,#f9efe9 1191px,#f2f5f6 1194px,#edf2f5 1197px)"></div><div style="left:0;top:125.96px;width:1200px;height:21.59px;background:linear-gradient(to right,#053061 0px,#053061 288px,#0d3f76 306px,#0d3f76 327px,#0e4179 336px,#0e4179 393px,#134c87 402px,#134c87 474px,#144e8a 483px,#175290 510px,#175290 570px,#185493 576px,#1f63a8 579px,#3a87bd 582px,#4291c2 603px,#68abd0 606px,#98c8e0 609px,#3c8abe 612px,#307ab6 615px,#2b73b3 618px,#2a71b2 666px,#0a3b70 669px,#0a3b70 783px,#0c3d73 792px,#0c3d73 801px,#0d3f76 810px,#0d3f76 849px,#1b5a9c 852px,#2065ab 855px,#276eb0 858px,#327cb7 861px,#4695c4 870px,#5fa5cd 876px,#96c7df 894px,#c5dfec 915px,#d8e9f1 930px,#ecf2f5 957px,#f5f6f7 978px,#f9ede5 990px,#fae9df 993px,#f9c6ac 996px,#f5aa89 999px,#f4a683 1032px,#f3a481 1038px,#f5ac8b 1041px,#fcd7c2 1050px,#fce2d2 1053px,#faeae1 1059px,#f9ebe3 1062px,#fddcc9 1068px,#fbccb4 1074px,#f9c4a9 1095px,#f7b799 1110px,#f19e7d 1119px,#ec9374 1155px,#e98b6e 1167px,#e6866a 1170px,#da6853 1176px,#dc6e57 1179px,#e8896c 1182px,#f5a886 1185px,#fcd5bf 1188px,#f8f4f2 1191px,#eff3f5 1194px,#eaf1f5 1197px)"></div><div style="left:0;top:146.95px;width:1200px;height:21.59px;background:linear-gradient(to right,#053061 0px,#053061 288px,#0d3f76 306px,#0d3f76 327px,#0e4179 336px,#0e4179 393px,#134c87 402px,#134c87 474px,#144e8a 483px,#175290 510px,#175290 570px,#185493 576px,#1f63a8 579px,#3a87bd 582px,#4291c2 603px,#68abd0 606px,#98c8e0 609px,#3c8abe 612px,#307ab6 615px,#2b73b3 618px,#2a71b2 666px,#0a3b70 669px,#0a3b70 783px,#0c3d73 792px,#0d3f76 810px,#0d3f76 849px,#1a5899 852px,#246aae 858px,#307ab6 861px,#4393c3 870px,#5ca3cb 876px,#9bc9e0 897px,#c2ddec 915px,#d2e6f0 924px,#eaf1f5 954px,#f5f6f7 978px,#f9ede5 990px,#fae9df 993px,#f9c6ac 996px,#f5aa89 999px,#f4a683 1032px,#f3a481 1038px,#f5ac8b 1041px,#fac8af 1047px,#fdd9c4 1050px,#fae8de 1056px,#f9ede5 1062px,#fbe3d4 1065px,#fbccb4 1074px,#f9c4a9 1095px,#f7b799 1110px,#f19e7d 1119px,#ef9979 1140px,#eb9172 1161px,#e98b6e 1170px,#da6853 1176px,#dd7059 1179px,#eb9172 1182px,#f5ac8b 1185px,#fddcc9 1188px,#f5f6f7 1191px,#ecf2f5 1194px,#e7f0f4 1197px)"></div><div style="left:0;top:167.94px;width:1200px;height:21.59px;background:linear-gradient(to right,#053061 0px,#053061 291px,#0d3f76 306px,#0d3f76 330px,#0e4179 339px,#0e4179 393px,#134c87 402px,#134c87 474px,#144e8a 483px,#175290 510px,#175290 570px,#185493 576px,#1f63a8 579px,#3a87bd 582px,#4291c2 603px,#68abd0 606px,#98c8e0 609px,#3c8abe 612px,#307ab6 615px,#2b73b3 618px,#2a71b2 666px,#0a3b70 669px,#0a3b70 783px,#0d3f76 801px,#0d3f76 849px,#185493 852px,#2267ac 858px,#2f79b5 861px,#4291c2 870px,#65a9cf 879px,#75b2d4 885px,#98c8e0 897px,#c7e0ed 918px,#d7e8f1 930px,#e9f0f4 951px,#f5f6f7 978px,#f9ede5 990px,#fae9df 993px,#f9c6ac 996px,#f5aa89 999px,#f4a683 1032px,#f3a481 1038px,#f5ac8b 1041px,#fcd7c2 1050px,#fce0d0 1053px,#fae9df 1059px,#faeae1 1062px,#fce2d2 1065px,#fbccb4 1074px,#f9c4a9 1095px,#f7b799 1110px,#f19e7d 1119px,#ec9374 1155px,#eb9172 1158px,#f19e7d 1167px,#f19e7d 1170px,#e98b6e 1173px,#de735c 1176px,#df765e 1179px,#ee9677 1182px,#f6b394 1185px,#fcdfcf 1188px,#f3f5f6 1191px,#eaf1f5 1194px,#e7f0f4 1197px)"></div><div style="left:0;top:188.94px;width:1200px;height:21.59px;background:linear-gradient(to right,#053061 0px,#053061 291px,#073467 294px,#073467 297px,#0d3f76 306px,#0d3f76 330px,#0e4179 339px,#0e4179 393px,#134c87 402px,#134c87 474px,#144e8a 483px,#175290 510px,#175290 570px,#185493 576px,#1f63a8 579px,#3a87bd 582px,#4291c2 603px,#68abd0 606px,#98c8e0 609px,#3c8abe 612px,#307ab6 615px,#2b73b3 618px,#2a71b2 666px,#0a3b70 669px,#0a3b70 783px,#0d3f76 801px,#0d3f76 849px,#15508d 852px,#195696 855px,#1f63a8 858px,#2c75b4 861px,#3a87bd 867px,#3f8ec0 870px,#6bacd1 882px,#9dcbe1 900px,#c0dceb 915px,#d5e7f1 930px,#e9f0f4 954px,#f5f6f7 978px,#f9ede5 990px,#fae9df 993px,#f9c6ac 996px,#f5aa89 999px,#f4a683 1032px,#f3a481 1038px,#f5ac8b 1041px,#fcd7c2 1050px,#fce0d0 1053px,#fae8de 1059px,#fae9df 1062px,#fddcc9 1068px,#fbccb4 1074px,#f9c4a9 1095px,#f7b799 1110px,#f19e7d 1119px,#f09c7b 1128px,#ec9374 1152px,#eb9172 1155px,#ec9374 1158px,#f4a683 1164px,#f5ac8b 1170px,#f09c7b 1173px,#e27b62 1176px,#e27b62 1179px,#f09c7b 1182px,#f7b99c 1185px,#fbe3d4 1188px,#f0f4f6 1191px,#e6eff4 1197px)"></div><div style="left:0;top:209.93px;width:1200px;height:21.59px;background:linear-gradient(to right,#053061 0px,#053061 291px,#09386d 300px,#0d3f76 306px,#0d3f76 330px,#0e4179 339px,#0e4179 393px,#134c87 402px,#134c87 474px,#144e8a 483px,#175290 510px,#175290 570px,#185493 576px,#1f63a8 579px,#3a87bd 582px,#4291c2 603px,#68abd0 606px,#98c8e0 609px,#3c8abe 612px,#307ab6 615px,#2b73b3 618px,#2a71b2 666px,#0a3b70 669px,#0a3b70 780px,#0d3f76 798px,#0d3f76 849px,#144e8a 852px,#175290 855px,#1d5fa2 858px,#2b73b3 861px,#3885bc 867px,#4695c4 873px,#5fa5cd 879px,#8dc2dc 894px,#bddbea 915px,#cfe4ef 924px,#e9f0f4 954px,#f3f5f6 978px,#f8f2ef 984px,#fae9df 993px,#f9c6ac 996px,#f5aa89 999px,#f4a683 1032px,#f3a481 1038px,#f5ac8b 1041px,#fcd7c2 1050px,#fcdfcf 1053px,#fbe6da 1059px,#fae7dc 1062px,#fcd5bf 1071px,#fbccb4 1074px,#f9c4a9 1095px,#f7b799 1110px,#f19e7d 1119px,#ec9374 1152px,#eb9172 1155px,#ec9374 1158px,#f2a17f 1161px,#f6af8e 1164px,#f7b799 1167px,#f8bb9e 1170px,#f5ac8b 1173px,#e58368 1176px,#e48066 1179px,#f2a17f 1182px,#f8bda1 1185px,#fbe6da 1188px,#edf2f5 1191px,#e6eff4 1197px)"></div><div style="left:0;top:230.92px;width:1200px;height:21.59px;background:linear-gradient(to right,#053061 0px,#053061 291px,#063264 297px,#0d3f76 306px,#0d3f76 330px,#0e4179 339px,#0e4179 393px,#134c87 402px,#134c87 474px,#144e8a 483px,#175290 510px,#175290 570px,#185493 576px,#1f63a8 579px,#3a87bd 582px,#4291c2 603px,#68abd0 606px,#98c8e0 609px,#3c8abe 612px,#307ab6 615px,#2b73b3 618px,#2a71b2 666px,#0a3b70 669px,#0a3b70 780px,#0d3f76 798px,#0d3f76 849px,#124984 852px,#144e8a 855px,#1b5a9c 858px,#2a71b2 861px,#4393c3 873px,#5ca3cb 879px,#9bc9e0 900px,#c2ddec 918px,#d4e6f1 930px,#e7f0f4 954px,#f3f5f6 978px,#f8f2ef 984px,#fae9df 993px,#f9c6ac 996px,#f5aa89 999px,#f4a683 1032px,#f3a481 1038px,#f5ac8b 1041px,#fcd5bf 1050px,#fcdecd 1053px,#fbe5d8 1059px,#fbe6da 1062px,#fcd5bf 1071px,#fbccb4 1074px,#f9c4a9 1095px,#f7b799 1110px,#f19e7d 1119px,#ec9374 1152px,#eb9172 1155px,#ec9374 1158px,#f5a886 1161px,#f9c4a9 1167px,#facab1 1170px,#f7b99c 1173px,#e98b6e 1176px,#e6866a 1179px,#f4a683 1182px,#f9c4a9 1185px,#fae8de 1188px,#ecf2f5 1191px,#e6eff4 1197px)"></div><div style="left:0;top:251.92px;width:1200px;height:21.59px;background:linear-gradient(to right,#053061 0px,#053061 294px,#0a3b70 303px,#0d3f76 306px,#0d3f76 330px,#0e4179 339px,#0e4179 393px,#134c87 402px,#134c87 474px,#144e8a 483px,#175290 510px,#175290 570px,#185493 576px,#1f63a8 579px,#3a87bd 582px,#4291c2 603px,#68abd0 606px,#98c8e0 609px,#3c8abe 612px,#307ab6 615px,#2b73b3 618px,#2a71b2 666px,#0a3b70 669px,#0a3b70 780px,#0d3f76 798px,#0d3f76 849px,#124984 855px,#195696 858px,#276eb0 861px,#4291c2 873px,#62a7ce 882px,#98c8e0 900px,#bbdaea 915px,#d5e7f1 933px,#e6eff4 951px,#f3f5f6 978px,#f8f2ef 984px,#fae9df 993px,#f9c6ac 996px,#f5aa89 999px,#f4a683 1032px,#f3a481 1038px,#f5ac8b 1041px,#fcd5bf 1050px,#fcdecd 1053px,#fbe3d4 1059px,#fbe4d6 1062px,#fddcc9 1068px,#fbccb4 1074px,#f9c4a9 1095px,#f7b799 1110px,#f19e7d 1119px,#ee9677 1140px,#eb9172 1155px,#ec9374 1158px,#f5ac8b 1161px,#f8bfa4 1164px,#fbceb7 1167px,#fdd9c4 1170px,#f9c6ac 1173px,#ee9677 1176px,#e8896c 1179px,#f5aa89 1182px,#facab1 1185px,#f9ebe3 1188px,#e9f0f4 1191px,#e6eff4 1197px)"></div><div style="left:0;top:272.91px;width:1200px;height:21.59px;background:linear-gradient(to right,#053061 0px,#053061 297px,#0d3f76 306px,#0d3f76 330px,#0e4179 339px,#0e4179 393px,#134c87 402px,#134c87 474px,#144e8a 483px,#175290 510px,#175290 570px,#185493 576px,#1f63a8 579px,#3a87bd 582px,#4291c2 603px,#68abd0 606px,#98c8e0 609px,#3c8abe 612px,#307ab6 615px,#2b73b3 618px,#2a71b2 666px,#0a3b70 669px,#0a3b70 780px,#0d3f76 798px,#0d3f76 849px,#0f437b 852px,#0f437b 855px,#175290 858px,#266caf 861px,#408fc1 873px,#68abd0 885px,#96c7df 900px,#b8d8e9 915px,#d4e6f1 933px,#e7f0f4 954px,#f3f5f6 978px,#f8f3f0 984px,#fae8de 993px,#f9c6ac 996px,#f5aa89 999px,#f3a481 1038px,#f5aa89 1041px,#fcd3bc 1050px,#fdddcb 1053px,#fce0d0 1056px,#fce0d0 1062px,#fcd3bc 1071px,#facab1 1074px,#fac8af 1083px,#facab1 1089px,#fac8af 1095px,#f8bb9e 1104px,#f7b799 1110px,#f2a17f 1119px,#ee9677 1143px,#eb9172 1152px,#ec9374 1158px,#f5aa89 1161px,#f8bfa4 1164px,#fcd7c2 1170px,#f9c6ac 1173px,#ec9374 1176px,#e8896c 1179px,#f5ac8b 1182px,#fbceb7 1185px,#f9eee7 1188px,#e7f0f4 1191px,#e4eef4 1197px)"></div><div style="left:0;top:293.90px;width:1200px;height:21.59px;background:linear-gradient(to right,#053061 0px,#053061 297px,#0d3f76 306px,#0d3f76 330px,#0e4179 339px,#0e4179 393px,#134c87 402px,#134c87 474px,#144e8a 483px,#175290 510px,#175290 570px,#185493 576px,#1f63a8 579px,#3a87bd 582px,#4291c2 603px,#68abd0 606px,#98c8e0 609px,#3c8abe 612px,#307ab6 615px,#2b73b3 618px,#2a71b2 666px,#0a3b70 669px,#0a3b70 780px,#0d3f76 798px,#0d3f76 855px,#144e8a 858px,#246aae 861px,#3f8ec0 873px,#4695c4 876px,#5ca3cb 882px,#9dcbe1 903px,#b1d5e7 912px,#d1e5f0 930px,#e4eef4 951px,#f3f5f6 978px,#f8f4f2 984px,#fbe5d8 993px,#f9c6ac 996px,#f5aa89 999px,#f4a683 1026px,#f3a481 1038px,#f5a886 1041px,#f8bb9e 1047px,#fddcc9 1053px,#fddcc9 1062px,#f9c6ac 1074px,#f9c4a9 1080px,#f9c6ac 1083px,#fbccb4 1086px,#fbceb7 1092px,#fac8af 1098px,#f8bfa4 1101px,#f7b799 1110px,#f5a886 1119px,#f2a17f 1131px,#f09c7b 1143px,#ea8e70 1152px,#ea8e70 1158px,#f2a17f 1161px,#f6b191 1164px,#f8bb9e 1167px,#f9c2a7 1170px,#f6b394 1173px,#e6866a 1176px,#e27b62 1179px,#f5a886 1182px,#fbceb7 1185px,#f9efe9 1188px,#e6eff4 1191px,#e4eef4 1197px)"></div><div style="left:0;top:314.90px;width:1200px;height:21.59px;background:linear-gradient(to right,#053061 0px,#053061 297px,#0d3f76 306px,#0d3f76 333px,#0e4179 342px,#0e4179 393px,#134c87 402px,#134c87 474px,#144e8a 483px,#175290 510px,#175290 570px,#185493 576px,#1f63a8 579px,#3a87bd 582px,#4291c2 603px,#68abd0 606px,#98c8e0 609px,#3c8abe 612px,#307ab6 615px,#2b73b3 618px,#2a71b2 666px,#0a3b70 669px,#0a3b70 780px,#0d3f76 798px,#0d3f76 855px,#144e8a 858px,#2267ac 861px,#2b73b3 864px,#4393c3 876px,#59a1ca 882px,#75b2d4 891px,#8ac0db 897px,#b1d5e7 912px,#d2e6f0 933px,#e6eff4 954px,#f2f5f6 978px,#f7f6f6 981px,#f7f5f4 984px,#f8f1ed 987px,#fce2d2 993px,#f9c6ac 996px,#f5ac8b 999px,#f5a886 1008px,#f3a481 1035px,#f2a17f 1038px,#f5aa89 1044px,#f6b191 1047px,#fdd9c4 1053px,#fddbc7 1056px,#fdd9c4 1059px,#fbceb7 1065px,#f9c2a7 1077px,#f9c2a7 1083px,#fbceb7 1086px,#fcd5bf 1089px,#fcd3bc 1095px,#fbccb4 1098px,#f9c2a7 1101px,#f7b596 1113px,#f5aa89 1122px,#f2a17f 1140px,#ef9979 1146px,#ea8e70 1149px,#e98b6e 1158px,#f2a17f 1164px,#f5ac8b 1170px,#f19e7d 1173px,#e17860 1176px,#dd7059 1179px,#f3a481 1182px,#fbceb7 1185px,#f9efe9 1188px,#e3edf3 1191px,#e4eef4 1197px)"></div><div style="left:0;top:335.89px;width:1200px;height:21.59px;background:linear-gradient(to right,#053061 0px,#053061 297px,#0c3d73 306px,#0c3d73 315px,#0d3f76 324px,#0d3f76 336px,#0e4179 345px,#0e4179 393px,#134c87 402px,#134c87 474px,#144e8a 483px,#175290 510px,#175290 570px,#185493 576px,#1f63a8 579px,#3a87bd 582px,#4291c2 603px,#68abd0 606px,#98c8e0 609px,#3c8abe 612px,#307ab6 615px,#2b73b3 618px,#2a71b2 666px,#0a3b70 669px,#0a3b70 780px,#0d3f76 798px,#0d3f76 855px,#134c87 858px,#2065ab 861px,#4291c2 876px,#87beda 897px,#aed3e6 912px,#d4e6f1 936px,#e4eef4 954px,#f2f5f6 978px,#f7f6f6 981px,#f7f6f6 984px,#f8f1ed 987px,#fcdecd 993px,#f9c4a9 996px,#f5ac8b 999px,#f5a886 1008px,#f2a17f 1038px,#f5a886 1047px,#fcd7c2 1053px,#fcd7c2 1056px,#f9c6ac 1065px,#f8bfa4 1074px,#f8bda1 1080px,#f8bfa4 1083px,#fcd3bc 1086px,#fddbc7 1089px,#fcd7c2 1095px,#fbceb7 1098px,#f9c2a7 1101px,#f7b99c 1110px,#f5ac8b 1128px,#f5a886 1137px,#f3a481 1143px,#f09c7b 1146px,#ea8e70 1149px,#e8896c 1152px,#e6866a 1158px,#ec9374 1167px,#ec9374 1170px,#e6866a 1173px,#db6b55 1176px,#d86551 1179px,#f19e7d 1182px,#fbceb7 1185px,#f9f0eb 1188px,#e1edf3 1191px,#e3edf3 1197px)"></div><div style="left:0;top:356.88px;width:1200px;height:21.59px;background:linear-gradient(to right,#053061 0px,#053061 297px,#0c3d73 306px,#0c3d73 321px,#0d3f76 330px,#0e4179 357px,#0e4179 393px,#134c87 402px,#134c87 474px,#144e8a 483px,#175290 510px,#175290 570px,#185493 576px,#1f63a8 579px,#3a87bd 582px,#4291c2 603px,#68abd0 606px,#98c8e0 609px,#3c8abe 612px,#307ab6 615px,#2b73b3 618px,#2a71b2 666px,#0a3b70 669px,#0a3b70 780px,#0d3f76 798px,#0d3f76 855px,#134c87 858px,#1e61a5 861px,#276eb0 864px,#408fc1 876px,#529dc8 882px,#68abd0 888px,#96c7df 903px,#b1d5e7 915px,#d1e5f0 933px,#e1edf3 951px,#f0f4f6 978px,#f7f6f6 981px,#f7f6f6 984px,#f8f1ed 987px,#fddbc7 993px,#f6af8e 999px,#f5aa89 1002px,#f3a481 1029px,#f19e7d 1047px,#f7b99c 1050px,#fcd5bf 1053px,#facab1 1059px,#f9c2a7 1062px,#f8bb9e 1080px,#f8bda1 1083px,#fcd5bf 1086px,#fdddcb 1089px,#fddbc7 1095px,#fcd3bc 1098px,#f9c2a7 1101px,#f8bda1 1104px,#f7b99c 1113px,#f4a683 1143px,#f09c7b 1146px,#e98b6e 1149px,#e6866a 1152px,#e27b62 1170px,#de735c 1173px,#d6604d 1176px,#d55d4c 1179px,#f09c7b 1182px,#fbceb7 1185px,#f8f1ed 1188px,#e0ecf3 1191px,#e3edf3 1197px)"></div><div style="left:0;top:377.88px;width:1200px;height:21.59px;background:linear-gradient(to right,#053061 0px,#053061 297px,#0c3d73 306px,#0c3d73 324px,#0d3f76 333px,#0e4179 360px,#0e4179 393px,#134c87 402px,#134c87 474px,#144e8a 483px,#175290 510px,#175290 570px,#185493 576px,#1f63a8 579px,#3a87bd 582px,#4291c2 603px,#68abd0 606px,#98c8e0 609px,#3c8abe 612px,#307ab6 615px,#2b73b3 618px,#2a71b2 666px,#0a3b70 669px,#0a3b70 780px,#0d3f76 798px,#0d3f76 855px,#124984 858px,#1d5fa2 861px,#246aae 864px,#3885bc 873px,#4695c4 879px,#78b4d5 894px,#9bc9e0 906px,#aed3e6 915px,#cfe4ef 933px,#e3edf3 954px,#f0f4f6 978px,#f7f6f6 981px,#f7f6f6 984px,#f8f2ef 987px,#fdddcb 993px,#f7b596 999px,#f6af8e 1005px,#f5ac8b 1020px,#f3a481 1026px,#f19e7d 1047px,#fbceb7 1053px,#fbccb4 1056px,#f8bda1 1062px,#f9c2a7 1065px,#f8bda1 1077px,#f8bb9e 1080px,#f8bda1 1083px,#fbd0b9 1086px,#fddbc7 1089px,#fcd7c2 1095px,#fbceb7 1098px,#f8bfa4 1101px,#f6b191 1119px,#f5aa89 1134px,#f3a481 1140px,#f2a17f 1143px,#ef9979 1146px,#e98b6e 1149px,#e58368 1155px,#e37e64 1167px,#df765e 1173px,#da6853 1176px,#da6853 1179px,#f3a481 1182px,#fcd5bf 1185px,#f8f2ef 1188px,#e1edf3 1191px,#e3edf3 1197px)"></div><div style="left:0;top:398.87px;width:1200px;height:21.59px;background:linear-gradient(to right,#053061 0px,#053061 297px,#0a3b70 306px,#0a3b70 318px,#0d3f76 330px,#0d3f76 339px,#0e4179 348px,#0e4179 393px,#134c87 402px,#134c87 474px,#144e8a 483px,#175290 510px,#175290 570px,#185493 576px,#1f63a8 579px,#3a87bd 582px,#4291c2 603px,#68abd0 606px,#98c8e0 609px,#3c8abe 612px,#307ab6 615px,#2b73b3 618px,#2a71b2 666px,#0a3b70 669px,#0a3b70 780px,#0d3f76 798px,#0d3f76 855px,#114781 858px,#1b5a9c 861px,#2369ad 864px,#3783bb 873px,#4393c3 879px,#75b2d4 894px,#98c8e0 906px,#b8d8e9 921px,#d4e6f1 939px,#e6eff4 960px,#f0f4f6 978px,#f7f6f6 981px,#f7f6f6 984px,#f8f2ef 987px,#fcdfcf 993px,#f8bb9e 999px,#f7b596 1005px,#f6b394 1017px,#f5ac8b 1023px,#f4a683 1026px,#f19e7d 1047px,#facab1 1053px,#f8bb9e 1062px,#f9c2a7 1065px,#f9c4a9 1071px,#f9c2a7 1077px,#f8bb9e 1080px,#f8bb9e 1083px,#fbceb7 1086px,#fcd5bf 1089px,#fcd3bc 1095px,#facab1 1098px,#f8bda1 1101px,#f7b596 1110px,#f5ac8b 1119px,#f3a481 1137px,#f19e7d 1143px,#ee9677 1146px,#e8896c 1149px,#e27b62 1170px,#dd7059 1176px,#dd7059 1179px,#f5aa89 1182px,#fdd9c4 1185px,#f8f4f2 1188px,#e3edf3 1191px,#e3edf3 1197px)"></div><div style="left:0;top:419.86px;width:1200px;height:21.59px;background:linear-gradient(to right,#053061 0px,#053061 288px,#073467 300px,#0a3b70 306px,#0a3b70 321px,#0d3f76 330px,#0d3f76 339px,#0e4179 348px,#0e4179 393px,#134c87 402px,#134c87 474px,#144e8a 483px,#175290 510px,#175290 570px,#185493 576px,#1f63a8 579px,#3a87bd 582px,#4291c2 603px,#68abd0 606px,#98c8e0 609px,#3c8abe 612px,#307ab6 615px,#2b73b3 618px,#2a71b2 666px,#0a3b70 669px,#0a3b70 780px,#0d3f76 798px,#0d3f76 855px,#114781 858px,#2065ab 864px,#2a71b2 867px,#408fc1 879px,#68abd0 891px,#96c7df 906px,#bddbea 924px,#d4e6f1 939px,#ecf2f5 972px,#eff3f5 978px,#f7f6f6 981px,#f7f6f6 984px,#f8f2ef 987px,#fce0d0 993px,#fcd3bc 996px,#f8bfa4 999px,#f7b99c 1011px,#f7b799 1020px,#f4a683 1026px,#f2a17f 1044px,#f19e7d 1047px,#f9c4a9 1053px,#f7b99c 1062px,#f9c4a9 1065px,#f9c6ac 1074px,#f9c4a9 1077px,#f8bb9e 1080px,#f8bb9e 1083px,#facab1 1086px,#fbd0b9 1089px,#fbceb7 1095px,#fac8af 1098px,#f8bda1 1101px,#f7b99c 1104px,#f7b99c 1107px,#f5aa89 1113px,#f2a17f 1134px,#ef9979 1143px,#ec9374 1146px,#e8896c 1149px,#e48066 1158px,#e27b62 1170px,#df765e 1176px,#e27b62 1179px,#f6b191 1182px,#fdddcb 1185px,#f7f5f4 1188px,#e3edf3 1191px,#e4eef4 1197px)"></div><div style="left:0;top:440.86px;width:1200px;height:21.59px;background:linear-gradient(to right,#053061 0px,#053061 90px,#063264 99px,#063264 297px,#09386d 306px,#09386d 318px,#0d3f76 327px,#0d3f76 342px,#0e4179 351px,#0e4179 393px,#134c87 402px,#134c87 474px,#144e8a 483px,#175290 510px,#175290 570px,#185493 576px,#1f63a8 579px,#3a87bd 582px,#4291c2 603px,#68abd0 606px,#98c8e0 609px,#3c8abe 612px,#307ab6 615px,#2b73b3 618px,#2a71b2 666px,#0a3b70 669px,#0a3b70 780px,#0d3f76 798px,#0d3f76 855px,#10457e 858px,#1f63a8 864px,#2870b1 867px,#4695c4 882px,#5ca3cb 888px,#9bc9e0 909px,#bbdaea 924px,#d5e7f1 942px,#e9f0f4 969px,#eff3f5 978px,#f7f6f6 981px,#f7f6f6 984px,#f9ebe3 990px,#fcd7c2 996px,#f9c6ac 999px,#f8bfa4 1011px,#f8bda1 1020px,#f4a683 1026px,#f3a481 1038px,#f2a17f 1047px,#f8bda1 1053px,#f7b596 1062px,#f9c6ac 1065px,#fac8af 1074px,#f9c6ac 1077px,#f7b99c 1080px,#f7b99c 1083px,#f9c6ac 1086px,#fbccb4 1089px,#facab1 1095px,#f8bb9e 1101px,#f7b799 1104px,#f7b799 1107px,#f4a683 1113px,#f19e7d 1131px,#ee9677 1143px,#eb9172 1146px,#e6866a 1149px,#e27b62 1173px,#e37e64 1176px,#e6866a 1179px,#f7b799 1182px,#fce0d0 1185px,#f6f7f7 1188px,#e4eef4 1191px,#e4eef4 1197px)"></div><div style="left:0;top:461.85px;width:1200px;height:21.59px;background:linear-gradient(to right,#053061 0px,#053061 78px,#063264 87px,#063264 297px,#09386d 306px,#09386d 318px,#0d3f76 330px,#0d3f76 342px,#0e4179 351px,#0e4179 393px,#134c87 402px,#134c87 474px,#144e8a 483px,#175290 510px,#175290 570px,#185493 576px,#1f63a8 579px,#3a87bd 582px,#4291c2 603px,#68abd0 606px,#98c8e0 609px,#3c8abe 612px,#307ab6 615px,#2b73b3 618px,#2a71b2 666px,#0a3b70 669px,#0a3b70 780px,#0d3f76 798px,#0d3f76 855px,#10457e 858px,#15508d 861px,#1d5fa2 864px,#266caf 867px,#3e8cbf 879px,#4393c3 882px,#59a1ca 888px,#98c8e0 909px,#bbdaea 924px,#d4e6f1 942px,#e9f0f4 969px,#eff3f5 978px,#f7f6f6 981px,#f8f2ef 987px,#fbe5d8 993px,#fddbc7 996px,#fbccb4 999px,#f9c6ac 1011px,#f9c4a9 1020px,#f5a886 1026px,#f3a481 1038px,#f2a17f 1047px,#f7b99c 1053px,#f6b394 1059px,#f6b394 1062px,#fac8af 1065px,#facab1 1074px,#fac8af 1077px,#f7b99c 1080px,#f7b99c 1083px,#fac8af 1089px,#f8bfa4 1098px,#f7b99c 1101px,#f7b596 1107px,#f2a17f 1113px,#ee9677 1137px,#ea8e70 1146px,#e6866a 1149px,#e48066 1158px,#e27b62 1170px,#e58368 1176px,#eb9172 1179px,#f8bfa4 1182px,#fbe3d4 1185px,#f5f6f7 1188px,#e6eff4 1191px,#e4eef4 1197px)"></div><div style="left:0;top:482.84px;width:1200px;height:21.59px;background:linear-gradient(to right,#053061 0px,#053061 69px,#063264 78px,#063264 297px,#09386d 306px,#09386d 321px,#0d3f76 330px,#0d3f76 345px,#0e4179 354px,#0e4179 393px,#134c87 402px,#134c87 474px,#144e8a 483px,#175290 510px,#175290 570px,#185493 576px,#1f63a8 579px,#3a87bd 582px,#4291c2 603px,#68abd0 606px,#98c8e0 609px,#3c8abe 612px,#307ab6 615px,#2b73b3 618px,#2a71b2 666px,#0a3b70 669px,#0a3b70 780px,#0d3f76 798px,#0d3f76 855px,#0f437b 858px,#144e8a 861px,#1c5c9f 864px,#246aae 867px,#4291c2 882px,#96c7df 909px,#b8d8e9 924px,#cfe4ef 939px,#e0ecf3 957px,#edf2f5 978px,#f7f6f6 981px,#f8f3f0 987px,#fae7dc 993px,#fcd3bc 999px,#fac8af 1020px,#f5a886 1026px,#f2a17f 1047px,#f6b394 1053px,#f6af8e 1062px,#facab1 1065px,#fbceb7 1068px,#facab1 1077px,#f7b99c 1080px,#f7b799 1083px,#f8bfa4 1086px,#f9c2a7 1092px,#f8bda1 1098px,#f7b799 1101px,#f7b596 1107px,#f5a886 1110px,#f09c7b 1113px,#ea8e70 1143px,#e98b6e 1146px,#e58368 1149px,#e27b62 1170px,#e48066 1173px,#e98b6e 1176px,#f09c7b 1179px,#f9c6ac 1182px,#fbe6da 1185px,#f2f5f6 1188px,#e6eff4 1191px,#e4eef4 1197px)"></div><div style="left:0;top:503.83px;width:1200px;height:21.59px;background:linear-gradient(to right,#053061 0px,#053061 63px,#063264 72px,#063264 297px,#08366a 306px,#08366a 318px,#0d3f76 330px,#0d3f76 345px,#0e4179 354px,#0e4179 393px,#134c87 402px,#134c87 474px,#144e8a 483px,#175290 510px,#175290 570px,#185493 576px,#1f63a8 579px,#3a87bd 582px,#4291c2 603px,#68abd0 606px,#98c8e0 609px,#3c8abe 612px,#307ab6 615px,#2b73b3 618px,#2a71b2 666px,#0a3b70 669px,#0a3b70 780px,#0d3f76 798px,#0d3f76 855px,#124984 861px,#2369ad 867px,#408fc1 882px,#93c6de 909px,#b6d7e8 924px,#d2e6f0 942px,#e7f0f4 969px,#edf2f5 978px,#f7f6f6 981px,#f8f3f0 987px,#fae9df 993px,#fcdfcf 996px,#fdd9c4 999px,#fcd3bc 1008px,#fbceb7 1020px,#f5a886 1026px,#f3a481 1044px,#f2a17f 1047px,#f6af8e 1053px,#f5aa89 1059px,#f5ac8b 1062px,#facab1 1065px,#fbd0b9 1068px,#fbd0b9 1074px,#fbccb4 1077px,#f7b99c 1080px,#f7b799 1083px,#f8bda1 1089px,#f7b99c 1098px,#f6b394 1104px,#f6b394 1107px,#f4a683 1110px,#ee9677 1113px,#ea8e70 1134px,#e8896c 1146px,#e48066 1152px,#e37e64 1164px,#e27b62 1170px,#e58368 1173px,#f4a683 1179px,#fbccb4 1182px,#fae8de 1185px,#f0f4f6 1188px,#e7f0f4 1191px,#e4eef4 1197px)"></div><div style="left:0;top:524.83px;width:1200px;height:21.59px;background:linear-gradient(to right,#053061 0px,#053061 57px,#063264 66px,#063264 297px,#08366a 309px,#08366a 318px,#0d3f76 330px,#0d3f76 345px,#0e4179 354px,#0e4179 393px,#134c87 402px,#134c87 474px,#144e8a 483px,#175290 510px,#175290 570px,#185493 576px,#1f63a8 579px,#3a87bd 582px,#4291c2 603px,#68abd0 606px,#98c8e0 609px,#3c8abe 612px,#307ab6 615px,#2b73b3 618px,#2a71b2 666px,#0a3b70 669px,#0a3b70 780px,#0d3f76 798px,#0d3f76 855px,#10457e 861px,#2267ac 867px,#4695c4 885px,#98c8e0 912px,#bbdaea 927px,#d4e6f1 945px,#ecf2f5 978px,#f7f6f6 981px,#f8f1ed 990px,#fce2d2 996px,#fddcc9 999px,#fcd7c2 1014px,#fcd5bf 1020px,#f5a886 1026px,#f4a683 1038px,#f3a481 1047px,#f5a886 1053px,#f4a683 1059px,#f5aa89 1062px,#fbccb4 1065px,#fcd3bc 1068px,#fcd3bc 1074px,#fbceb7 1077px,#f7b99c 1080px,#f7b596 1083px,#f7b99c 1089px,#f6b191 1107px,#f2a17f 1110px,#eb9172 1113px,#e6866a 1143px,#e48066 1152px,#e27b62 1170px,#e6866a 1173px,#ef9979 1176px,#f5ac8b 1179px,#fcd3bc 1182px,#f9ebe3 1185px,#edf2f5 1188px,#e6eff4 1197px)"></div><div style="left:0;top:545.82px;width:1200px;height:21.59px;background:linear-gradient(to right,#053061 0px,#053061 51px,#063264 60px,#063264 288px,#073467 297px,#073467 318px,#0d3f76 330px,#0d3f76 348px,#0e4179 357px,#0e4179 393px,#134c87 402px,#134c87 474px,#144e8a 483px,#175290 510px,#175290 570px,#185493 576px,#1f63a8 579px,#3a87bd 582px,#4291c2 603px,#68abd0 606px,#98c8e0 609px,#3c8abe 612px,#307ab6 615px,#2b73b3 618px,#2a71b2 666px,#0a3b70 669px,#0a3b70 780px,#0d3f76 798px,#0d3f76 855px,#0f437b 861px,#175290 864px,#2065ab 867px,#4393c3 885px,#96c7df 912px,#b8d8e9 927px,#d2e6f0 945px,#eaf1f5 975px,#ecf2f5 978px,#f7f6f6 981px,#f8f2ef 990px,#f9ede5 993px,#fbe4d6 996px,#fcdfcf 999px,#fddbc7 1020px,#f5aa89 1026px,#f4a683 1038px,#f2a17f 1056px,#f19e7d 1059px,#f4a683 1062px,#fbceb7 1065px,#fcd5bf 1068px,#fcd5bf 1074px,#fbd0b9 1077px,#f7b99c 1080px,#f7b596 1083px,#f6b191 1107px,#f19e7d 1110px,#e8896c 1113px,#e8896c 1122px,#e6866a 1131px,#e37e64 1161px,#e27b62 1170px,#e8896c 1173px,#f2a17f 1176px,#f7b596 1179px,#fdd9c4 1182px,#f9efe9 1185px,#ecf2f5 1188px,#e6eff4 1197px)"></div><div style="left:0;top:566.81px;width:1200px;height:21.59px;background:linear-gradient(to right,#053061 0px,#053061 48px,#063264 57px,#063264 96px,#073467 105px,#073467 318px,#0d3f76 330px,#0d3f76 348px,#0e4179 357px,#0e4179 393px,#134c87 402px,#134c87 474px,#144e8a 483px,#175290 510px,#175290 570px,#185493 576px,#1f63a8 579px,#3a87bd 582px,#4291c2 603px,#68abd0 606px,#98c8e0 609px,#3c8abe 612px,#307ab6 615px,#2b73b3 618px,#2a71b2 666px,#0a3b70 669px,#0a3b70 780px,#0d3f76 798px,#0d3f76 861px,#1f63a8 867px,#2b73b3 873px,#4997c5 888px,#9dcbe1 915px,#b1d5e7 924px,#cfe4ef 942px,#e3edf3 966px,#ecf2f5 978px,#f7f6f6 981px,#f8f2ef 990px,#f9eee7 993px,#fbe5d8 996px,#fce0d0 999px,#fddbc7 1020px,#f5aa89 1026px,#f19e7d 1059px,#f4a683 1062px,#fbceb7 1065px,#fcd5bf 1068px,#fcd5bf 1074px,#fbd0b9 1077px,#f7b99c 1080px,#f6b394 1086px,#f6b394 1095px,#f6af8e 1107px,#f19e7d 1110px,#e8896c 1113px,#e27b62 1170px,#e8896c 1173px,#f2a17f 1176px,#f7b799 1179px,#fddbc7 1182px,#f9efe9 1185px,#ecf2f5 1188px,#e6eff4 1197px)"></div><div style="left:0;top:587.81px;width:1200px;height:21.59px;background:linear-gradient(to right,#053061 0px,#053061 48px,#063264 57px,#063264 96px,#073467 105px,#073467 318px,#0d3f76 330px,#0d3f76 348px,#0e4179 357px,#0e4179 393px,#134c87 402px,#134c87 474px,#144e8a 483px,#175290 510px,#175290 570px,#185493 576px,#1f63a8 579px,#3a87bd 582px,#4291c2 603px,#68abd0 606px,#98c8e0 609px,#3c8abe 612px,#307ab6 615px,#2b73b3 618px,#2a71b2 666px,#0a3b70 669px,#0a3b70 780px,#0d3f76 798px,#0d3f76 861px,#1f63a8 867px,#2b73b3 873px,#4997c5 888px,#9dcbe1 915px,#b1d5e7 924px,#cfe4ef 942px,#e3edf3 966px,#ecf2f5 978px,#f7f6f6 981px,#f8f2ef 990px,#f9eee7 993px,#fbe5d8 996px,#fce0d0 999px,#fddbc7 1020px,#f5aa89 1026px,#f19e7d 1059px,#f4a683 1062px,#fbceb7 1065px,#fcd5bf 1068px,#fcd5bf 1074px,#fbd0b9 1077px,#f7b99c 1080px,#f6b394 1086px,#f6b394 1095px,#f6af8e 1107px,#f19e7d 1110px,#e8896c 1113px,#e27b62 1170px,#e8896c 1173px,#f2a17f 1176px,#f7b799 1179px,#fddbc7 1182px,#f9efe9 1185px,#ecf2f5 1188px,#e6eff4 1197px)"></div><div style="left:0;top:0;width:1200px;height:609px;background:#2b73b3;clip-path:polygon(678.5px -6.1px,679.5px 377.5px,683.5px 414.0px,688.5px 487.0px,694.5px 554.0px,694.5px 614.9px,662.5px 614.9px,662.5px -6.1px)"></div><div style="left:0;top:0;width:1200px;height:609px;background:#246aae;clip-path:polygon(722.6px 407.9px,733.8px 614.9px,694.5px 614.9px,696.3px 554.0px,713.2px 430.4px)"></div><div style="left:0;top:0;width:1200px;height:609px;background:#2065ab;clip-path:polygon(775.5px 219.2px,783.5px 182.6px,790.5px 219.2px,790.5px 365.3px,785.5px 432.2px,775.5px 365.3px)"></div><div style="left:0;top:0;width:1200px;height:609px;background:#15508d;clip-path:polygon(797.5px 274.0px,829.5px 243.5px,837.5px 547.9px,804.5px 578.4px)"></div><div class="tex" style="-webkit-mask-image:linear-gradient(to right,transparent 25%,#000 33%,#000 56.3%,rgba(0,0,0,.15) 56.9%,rgba(0,0,0,.15) 70.8%,rgba(0,0,0,.8) 71.8%);mask-image:linear-gradient(to right,transparent 25%,#000 33%,#000 56.3%,rgba(0,0,0,.15) 56.9%,rgba(0,0,0,.15) 70.8%,rgba(0,0,0,.8) 71.8%);"><svg width="1200" height="609"><filter id="n2" x="0" y="0" width="100%" height="100%"><feTurbulence type="fractalNoise" baseFrequency="0.42 0.022" numOctaves="2" seed="5"/><feColorMatrix type="matrix" values="0 0 0 0 0  0 0 0 0 0  0 0 0 0 0  2.4 0 0 0 -1.36"/><feComposite in="SourceGraphic" operator="in"/></filter><rect width="1200" height="609" fill="#e8f2fa" filter="url(#n2)"/></svg></div></div>
<div class="ax" style="left:99.85px;top:1883.85px;width:1200.20px;height:610.10px;"></div>
<div class="k" style="left:92.8px;top:2492.6px;width:7px;height:1.5px"></div>
<div class="t tick" style="letter-spacing:-1.2px;right:1366.0px;top:2483.7px">0</div>
<div class="k" style="left:92.8px;top:2401.4px;width:7px;height:1.5px"></div>
<div class="t tick" style="letter-spacing:-1.2px;right:1366.0px;top:2392.5px">50</div>
<div class="k" style="left:92.8px;top:2310.2px;width:7px;height:1.5px"></div>
<div class="t tick" style="letter-spacing:-1.2px;right:1366.0px;top:2301.3px">100</div>
<div class="k" style="left:92.8px;top:2219.0px;width:7px;height:1.5px"></div>
<div class="t tick" style="letter-spacing:-1.2px;right:1366.0px;top:2210.1px">150</div>
<div class="k" style="left:92.8px;top:2127.9px;width:7px;height:1.5px"></div>
<div class="t tick" style="letter-spacing:-1.2px;right:1366.0px;top:2119.0px">200</div>
<div class="k" style="left:92.8px;top:2036.7px;width:7px;height:1.5px"></div>
<div class="t tick" style="letter-spacing:-1.2px;right:1366.0px;top:2027.8px">250</div>
<div class="k" style="left:92.8px;top:1945.5px;width:7px;height:1.5px"></div>
<div class="t tick" style="letter-spacing:-1.2px;right:1366.0px;top:1936.6px">300</div>
<div class="k" style="left:99.8px;top:2494.0px;width:1.5px;height:7px"></div>
<div class="t tick" style="left:0.5px;width:200px;text-align:center;top:2505.8px">14:05:32</div>
<div class="k" style="left:399.52500000000003px;top:2494.0px;width:1.5px;height:7px"></div>
<div class="t tick" style="left:300.225px;width:200px;text-align:center;top:2505.8px">14:08:31</div>
<div class="k" style="left:699.25px;top:2494.0px;width:1.5px;height:7px"></div>
<div class="t tick" style="left:599.95px;width:200px;text-align:center;top:2505.8px">14:11:30</div>
<div class="k" style="left:998.975px;top:2494.0px;width:1.5px;height:7px"></div>
<div class="t tick" style="left:899.6750000000001px;width:200px;text-align:center;top:2505.8px">14:14:28</div>
<div class="k" style="left:1298.7px;top:2494.0px;width:1.5px;height:7px"></div>
<div class="t tick" style="left:1199.4px;width:200px;text-align:center;top:2505.8px">14:17:27</div>
<div class="rot lab" style="left:19px;top:2188.9px;font-size:22px;letter-spacing:-0.6px"><span style="display:inline-block;transform:translateX(-50%)">Across-track pixel</span></div>
<div class="cb" style="left:1319px;top:1884.0px;width:26px;height:608.7px"></div>
<div class="k" style="left:1345px;top:2492.0px;width:7px;height:1.5px"></div>
<div class="t tick" style="letter-spacing:-1.2px;left:1359.5px;top:2483.1px">0</div>
<div class="k" style="left:1345px;top:2390.6px;width:7px;height:1.5px"></div>
<div class="t tick" style="letter-spacing:-1.2px;left:1359.5px;top:2381.7px">5</div>
<div class="k" style="left:1345px;top:2289.1px;width:7px;height:1.5px"></div>
<div class="t tick" style="letter-spacing:-1.2px;left:1359.5px;top:2280.2px">10</div>
<div class="k" style="left:1345px;top:2187.7px;width:7px;height:1.5px"></div>
<div class="t tick" style="letter-spacing:-1.2px;left:1359.5px;top:2178.8px">15</div>
<div class="k" style="left:1345px;top:2086.2px;width:7px;height:1.5px"></div>
<div class="t tick" style="letter-spacing:-1.2px;left:1359.5px;top:2077.3px">20</div>
<div class="k" style="left:1345px;top:1984.7px;width:7px;height:1.5px"></div>
<div class="t tick" style="letter-spacing:-1.2px;left:1359.5px;top:1975.8px">25</div>
<div class="k" style="left:1345px;top:1883.3px;width:7px;height:1.5px"></div>
<div class="t tick" style="letter-spacing:-1.2px;left:1359.5px;top:1874.4px">30</div>
<div class="rot lab" style="left:1392px;top:2188.9px;font-size:20px;letter-spacing:-0.6px"><span style="display:inline-block;transform:translateX(-50%)">SWIR 1 [W m<sup>−2</sup> sr<sup>−1</sup> um<sup>−1</sup>]</span></div>
<div class="t title" style="top:2728.3px">MSI_NOM_1B SWIR 2 Radiance [W m<sup>−2</sup> sr<sup>−1</sup> um<sup>−1</sup>]&nbsp;&nbsp;&nbsp;&nbsp;2024-11-28&nbsp;&nbsp;&nbsp;&nbsp;14:05:32 - 14:17:27 UTC</div>
<div class="img" style="left:100.5px;top:2761.5px;width:1198.9px;height:608.8px;"><div style="left:0;top:0.00px;width:1200px;height:21.59px;background:linear-gradient(to right,#053061 0px,#053061 216px,#063264 225px,#063264 288px,#08366a 297px,#09386d 315px,#09386d 342px,#0a3b70 351px,#0a3b70 387px,#0c3d73 396px,#0d3f76 423px,#0d3f76 507px,#0e4179 516px,#0e4179 573px,#10457e 576px,#144e8a 579px,#15508d 597px,#175290 603px,#1b5a9c 609px,#185493 612px,#175290 621px,#175290 639px,#15508d 648px,#15508d 666px,#073467 669px,#073467 783px,#08366a 792px,#08366a 804px,#09386d 813px,#09386d 846px,#124984 852px,#1e61a5 873px,#1f63a8 885px,#2369ad 903px,#327cb7 981px,#4393c3 990px,#4393c3 1023px,#4695c4 1029px,#4695c4 1047px,#3885bc 1056px,#4291c2 1158px,#4393c3 1179px,#3e8cbf 1185px,#3e8cbf 1188px,#529dc8 1191px,#6eaed2 1194px,#81bad8 1197px)"></div><div style="left:0;top:20.99px;width:1200px;height:21.59px;background:linear-gradient(to right,#053061 0px,#053061 216px,#063264 225px,#063264 288px,#08366a 297px,#09386d 324px,#09386d 342px,#0a3b70 351px,#0a3b70 387px,#0c3d73 396px,#0d3f76 423px,#0d3f76 507px,#0e4179 516px,#0e4179 573px,#10457e 576px,#144e8a 579px,#15508d 597px,#175290 603px,#1b5a9c 609px,#185493 612px,#175290 621px,#175290 639px,#15508d 648px,#15508d 666px,#073467 669px,#073467 783px,#08366a 792px,#08366a 804px,#09386d 813px,#09386d 846px,#114781 852px,#1c5c9f 870px,#1f63a8 882px,#276eb0 924px,#327cb7 981px,#4291c2 990px,#4393c3 1023px,#4695c4 1029px,#4695c4 1047px,#3885bc 1056px,#4291c2 1158px,#4393c3 1179px,#3e8cbf 1185px,#3e8cbf 1188px,#529dc8 1191px,#6eaed2 1194px,#81bad8 1197px)"></div><div style="left:0;top:41.99px;width:1200px;height:21.59px;background:linear-gradient(to right,#053061 0px,#053061 216px,#063264 225px,#063264 288px,#08366a 297px,#09386d 324px,#09386d 342px,#0a3b70 351px,#0a3b70 387px,#0c3d73 396px,#0d3f76 423px,#0d3f76 507px,#0e4179 516px,#0e4179 573px,#10457e 576px,#144e8a 579px,#15508d 597px,#175290 603px,#1b5a9c 609px,#185493 612px,#175290 621px,#175290 639px,#15508d 648px,#15508d 666px,#073467 669px,#073467 783px,#08366a 792px,#08366a 804px,#09386d 813px,#09386d 846px,#114781 852px,#1c5c9f 870px,#1f63a8 882px,#266caf 921px,#327cb7 981px,#408fc1 990px,#4393c3 1002px,#4393c3 1026px,#4695c4 1032px,#4695c4 1047px,#3885bc 1056px,#4291c2 1158px,#4393c3 1179px,#3e8cbf 1185px,#3e8cbf 1188px,#529dc8 1191px,#6eaed2 1194px,#81bad8 1197px)"></div><div style="left:0;top:62.98px;width:1200px;height:21.59px;background:linear-gradient(to right,#053061 0px,#053061 216px,#063264 225px,#063264 288px,#08366a 300px,#09386d 327px,#09386d 342px,#0a3b70 351px,#0a3b70 387px,#0c3d73 396px,#0d3f76 423px,#0d3f76 507px,#0e4179 516px,#0e4179 573px,#10457e 576px,#144e8a 579px,#15508d 597px,#175290 603px,#1b5a9c 609px,#185493 612px,#175290 621px,#175290 639px,#15508d 648px,#15508d 666px,#073467 669px,#073467 783px,#08366a 792px,#08366a 804px,#09386d 813px,#09386d 846px,#124984 855px,#1a5899 867px,#1d5fa2 873px,#1f63a8 885px,#246aae 912px,#327cb7 981px,#3f8ec0 990px,#4393c3 1002px,#4393c3 1026px,#4695c4 1032px,#4695c4 1047px,#3885bc 1056px,#4291c2 1158px,#4393c3 1179px,#3e8cbf 1185px,#3e8cbf 1188px,#529dc8 1191px,#6eaed2 1194px,#81bad8 1197px)"></div><div style="left:0;top:83.97px;width:1200px;height:21.59px;background:linear-gradient(to right,#053061 0px,#053061 216px,#063264 225px,#063264 288px,#08366a 300px,#09386d 327px,#09386d 342px,#0a3b70 351px,#0a3b70 387px,#0c3d73 396px,#0d3f76 423px,#0d3f76 507px,#0e4179 516px,#0e4179 573px,#10457e 576px,#144e8a 579px,#15508d 597px,#175290 603px,#1b5a9c 609px,#185493 612px,#175290 621px,#175290 639px,#15508d 648px,#15508d 666px,#073467 669px,#073467 783px,#08366a 792px,#08366a 804px,#09386d 813px,#09386d 846px,#10457e 852px,#134c87 858px,#175290 861px,#1d5fa2 873px,#1f63a8 885px,#246aae 912px,#327cb7 981px,#3f8ec0 990px,#4393c3 1002px,#4393c3 1026px,#4695c4 1032px,#4695c4 1047px,#3885bc 1056px,#4291c2 1158px,#4393c3 1179px,#3e8cbf 1185px,#3e8cbf 1188px,#529dc8 1191px,#6eaed2 1194px,#81bad8 1197px)"></div><div style="left:0;top:104.97px;width:1200px;height:21.59px;background:linear-gradient(to right,#053061 0px,#053061 216px,#063264 225px,#063264 291px,#08366a 300px,#09386d 327px,#09386d 345px,#0a3b70 354px,#0a3b70 387px,#0c3d73 396px,#0d3f76 423px,#0d3f76 507px,#0e4179 516px,#0e4179 573px,#10457e 576px,#144e8a 579px,#15508d 597px,#175290 603px,#1b5a9c 609px,#185493 612px,#175290 621px,#175290 639px,#15508d 648px,#15508d 666px,#073467 669px,#073467 783px,#08366a 792px,#08366a 804px,#09386d 813px,#09386d 846px,#185493 864px,#1e61a5 879px,#2267ac 903px,#307ab6 981px,#3e8cbf 990px,#4393c3 1002px,#4393c3 1026px,#4695c4 1032px,#4695c4 1047px,#3885bc 1056px,#4291c2 1158px,#4393c3 1179px,#3e8cbf 1185px,#3e8cbf 1188px,#529dc8 1191px,#6eaed2 1194px,#81bad8 1197px)"></div><div style="left:0;top:125.96px;width:1200px;height:21.59px;background:linear-gradient(to right,#053061 0px,#053061 216px,#063264 225px,#063264 291px,#08366a 300px,#09386d 327px,#09386d 345px,#0a3b70 354px,#0a3b70 387px,#0c3d73 396px,#0d3f76 423px,#0d3f76 507px,#0e4179 516px,#0e4179 573px,#10457e 576px,#144e8a 579px,#15508d 597px,#175290 603px,#1b5a9c 609px,#185493 612px,#175290 621px,#175290 639px,#15508d 648px,#15508d 666px,#073467 669px,#073467 783px,#08366a 792px,#08366a 804px,#09386d 813px,#09386d 846px,#0f437b 852px,#10457e 855px,#15508d 861px,#1c5c9f 873px,#1f63a8 885px,#276eb0 927px,#307ab6 981px,#3f8ec0 993px,#4393c3 1002px,#4393c3 1026px,#4695c4 1032px,#4695c4 1047px,#3885bc 1056px,#4291c2 1158px,#4393c3 1179px,#3e8cbf 1185px,#3e8cbf 1188px,#529dc8 1191px,#6eaed2 1194px,#81bad8 1197px)"></div><div style="left:0;top:146.95px;width:1200px;height:21.59px;background:linear-gradient(to right,#053061 0px,#053061 216px,#063264 225px,#063264 291px,#08366a 303px,#09386d 321px,#09386d 345px,#0a3b70 354px,#0a3b70 387px,#0c3d73 396px,#0d3f76 423px,#0d3f76 507px,#0e4179 516px,#0e4179 573px,#10457e 576px,#144e8a 579px,#15508d 597px,#175290 603px,#1b5a9c 609px,#185493 612px,#175290 621px,#175290 639px,#15508d 648px,#15508d 666px,#073467 669px,#073467 783px,#08366a 792px,#08366a 804px,#09386d 813px,#09386d 846px,#0f437b 855px,#15508d 861px,#1e61a5 879px,#2267ac 903px,#307ab6 981px,#4291c2 996px,#4393c3 1026px,#4695c4 1032px,#4695c4 1047px,#3885bc 1056px,#4291c2 1158px,#4393c3 1179px,#3e8cbf 1185px,#3e8cbf 1188px,#529dc8 1191px,#6eaed2 1194px,#81bad8 1197px)"></div><div style="left:0;top:167.94px;width:1200px;height:21.59px;background:linear-gradient(to right,#053061 0px,#053061 216px,#063264 225px,#063264 291px,#073467 300px,#09386d 312px,#09386d 345px,#0a3b70 354px,#0a3b70 387px,#0c3d73 396px,#0d3f76 423px,#0d3f76 507px,#0e4179 516px,#0e4179 573px,#10457e 576px,#144e8a 579px,#15508d 597px,#175290 603px,#1b5a9c 609px,#185493 612px,#175290 621px,#175290 639px,#15508d 648px,#15508d 666px,#073467 669px,#073467 783px,#08366a 792px,#08366a 804px,#09386d 813px,#09386d 846px,#0f437b 855px,#175290 864px,#1e61a5 879px,#2369ad 909px,#307ab6 981px,#4393c3 999px,#4393c3 1026px,#4695c4 1032px,#4695c4 1047px,#3885bc 1056px,#4291c2 1158px,#4393c3 1179px,#3e8cbf 1185px,#3e8cbf 1188px,#529dc8 1191px,#6eaed2 1194px,#81bad8 1197px)"></div><div style="left:0;top:188.94px;width:1200px;height:21.59px;background:linear-gradient(to right,#053061 0px,#053061 216px,#063264 225px,#063264 291px,#073467 300px,#09386d 318px,#09386d 348px,#0a3b70 357px,#0a3b70 387px,#0c3d73 396px,#0d3f76 423px,#0d3f76 507px,#0e4179 516px,#0e4179 573px,#10457e 576px,#144e8a 579px,#15508d 597px,#175290 603px,#1b5a9c 609px,#185493 612px,#175290 621px,#175290 639px,#15508d 648px,#15508d 666px,#073467 669px,#073467 783px,#08366a 792px,#08366a 804px,#09386d 813px,#09386d 846px,#0e4179 855px,#175290 864px,#1e61a5 882px,#2267ac 906px,#307ab6 981px,#3c8abe 993px,#4393c3 999px,#4393c3 1026px,#4695c4 1032px,#4695c4 1047px,#3885bc 1056px,#4291c2 1158px,#4393c3 1179px,#3e8cbf 1185px,#3e8cbf 1188px,#529dc8 1191px,#6eaed2 1194px,#81bad8 1197px)"></div><div style="left:0;top:209.93px;width:1200px;height:21.59px;background:linear-gradient(to right,#053061 0px,#053061 216px,#063264 225px,#063264 291px,#073467 300px,#09386d 318px,#09386d 348px,#0a3b70 357px,#0a3b70 387px,#0c3d73 396px,#0d3f76 423px,#0d3f76 507px,#0e4179 516px,#0e4179 573px,#10457e 576px,#144e8a 579px,#15508d 597px,#175290 603px,#1b5a9c 609px,#185493 612px,#175290 621px,#175290 639px,#15508d 648px,#15508d 666px,#073467 669px,#073467 783px,#08366a 792px,#08366a 804px,#09386d 813px,#09386d 846px,#0d3f76 855px,#144e8a 861px,#1d5fa2 879px,#2267ac 900px,#307ab6 981px,#3783bb 990px,#4393c3 999px,#4393c3 1026px,#4695c4 1032px,#4695c4 1047px,#3885bc 1056px,#4291c2 1158px,#4393c3 1179px,#3e8cbf 1185px,#3e8cbf 1188px,#529dc8 1191px,#6eaed2 1194px,#81bad8 1197px)"></div><div style="left:0;top:230.92px;width:1200px;height:21.59px;background:linear-gradient(to right,#053061 0px,#053061 216px,#063264 225px,#063264 291px,#073467 300px,#09386d 318px,#09386d 348px,#0a3b70 357px,#0a3b70 387px,#0c3d73 396px,#0d3f76 423px,#0d3f76 507px,#0e4179 516px,#0e4179 573px,#10457e 576px,#144e8a 579px,#15508d 597px,#175290 603px,#1b5a9c 609px,#185493 612px,#175290 621px,#175290 639px,#15508d 648px,#15508d 666px,#073467 669px,#073467 783px,#08366a 792px,#08366a 804px,#09386d 813px,#09386d 846px,#0d3f76 855px,#15508d 864px,#1c5c9f 876px,#1f63a8 888px,#276eb0 930px,#327cb7 984px,#3681ba 990px,#408fc1 996px,#4393c3 1002px,#4393c3 1026px,#4695c4 1032px,#4695c4 1047px,#3885bc 1056px,#4291c2 1158px,#4393c3 1179px,#3e8cbf 1185px,#3e8cbf 1188px,#529dc8 1191px,#6eaed2 1194px,#81bad8 1197px)"></div><div style="left:0;top:251.92px;width:1200px;height:21.59px;background:linear-gradient(to right,#053061 0px,#053061 216px,#063264 225px,#063264 291px,#073467 300px,#09386d 318px,#09386d 348px,#0a3b70 357px,#0a3b70 387px,#0c3d73 396px,#0d3f76 423px,#0d3f76 507px,#0e4179 516px,#0e4179 573px,#10457e 576px,#144e8a 579px,#15508d 597px,#175290 603px,#1b5a9c 609px,#185493 612px,#175290 621px,#175290 639px,#15508d 648px,#15508d 666px,#073467 669px,#073467 783px,#08366a 792px,#08366a 804px,#09386d 813px,#09386d 846px,#0c3d73 855px,#134c87 861px,#1d5fa2 879px,#2065ab 897px,#327cb7 984px,#3480b9 990px,#408fc1 996px,#4393c3 1002px,#4393c3 1026px,#4695c4 1032px,#4695c4 1047px,#3885bc 1056px,#4291c2 1158px,#4393c3 1179px,#3e8cbf 1185px,#3e8cbf 1188px,#529dc8 1191px,#6eaed2 1194px,#81bad8 1197px)"></div><div style="left:0;top:272.91px;width:1200px;height:21.59px;background:linear-gradient(to right,#053061 0px,#053061 216px,#063264 225px,#063264 291px,#073467 300px,#09386d 321px,#09386d 348px,#0a3b70 357px,#0a3b70 387px,#0c3d73 396px,#0d3f76 423px,#0d3f76 507px,#0e4179 516px,#0e4179 573px,#10457e 576px,#144e8a 579px,#15508d 597px,#175290 603px,#1b5a9c 609px,#185493 612px,#175290 621px,#175290 639px,#15508d 648px,#15508d 666px,#073467 669px,#073467 783px,#08366a 792px,#08366a 804px,#09386d 813px,#09386d 849px,#0a3b70 855px,#134c87 861px,#1e61a5 882px,#2369ad 912px,#327cb7 987px,#3a87bd 993px,#4393c3 999px,#4393c3 1026px,#4695c4 1032px,#4695c4 1047px,#3885bc 1056px,#4291c2 1158px,#4393c3 1179px,#3e8cbf 1185px,#3e8cbf 1188px,#529dc8 1191px,#6eaed2 1194px,#81bad8 1197px)"></div><div style="left:0;top:293.90px;width:1200px;height:21.59px;background:linear-gradient(to right,#053061 0px,#053061 216px,#063264 225px,#063264 297px,#08366a 309px,#09386d 327px,#09386d 351px,#0a3b70 360px,#0a3b70 387px,#0c3d73 396px,#0d3f76 423px,#0d3f76 507px,#0e4179 516px,#0e4179 573px,#10457e 576px,#144e8a 579px,#15508d 597px,#175290 603px,#1b5a9c 609px,#185493 612px,#175290 621px,#175290 639px,#15508d 648px,#15508d 666px,#073467 669px,#073467 783px,#08366a 792px,#08366a 804px,#09386d 813px,#09386d 852px,#0a3b70 855px,#134c87 861px,#1e61a5 882px,#2369ad 912px,#327cb7 987px,#337eb8 990px,#4393c3 999px,#4393c3 1026px,#4695c4 1032px,#4695c4 1047px,#3885bc 1056px,#4291c2 1158px,#4393c3 1179px,#3e8cbf 1185px,#3e8cbf 1188px,#529dc8 1191px,#6eaed2 1194px,#81bad8 1197px)"></div><div style="left:0;top:314.90px;width:1200px;height:21.59px;background:linear-gradient(to right,#053061 0px,#053061 216px,#063264 225px,#063264 300px,#08366a 309px,#09386d 336px,#09386d 351px,#0a3b70 360px,#0a3b70 387px,#0c3d73 396px,#0d3f76 423px,#0d3f76 507px,#0e4179 516px,#0e4179 573px,#10457e 576px,#144e8a 579px,#15508d 597px,#175290 603px,#1b5a9c 609px,#185493 612px,#175290 621px,#175290 639px,#15508d 648px,#15508d 666px,#073467 669px,#073467 783px,#08366a 792px,#08366a 807px,#09386d 816px,#09386d 852px,#0a3b70 855px,#124984 861px,#1c5c9f 879px,#1f63a8 891px,#246aae 918px,#307ab6 987px,#3885bc 993px,#3f8ec0 996px,#4393c3 1005px,#4393c3 1029px,#4695c4 1035px,#4695c4 1047px,#3885bc 1056px,#4291c2 1158px,#4393c3 1179px,#3e8cbf 1185px,#3e8cbf 1188px,#529dc8 1191px,#6eaed2 1194px,#81bad8 1197px)"></div><div style="left:0;top:335.89px;width:1200px;height:21.59px;background:linear-gradient(to right,#053061 0px,#053061 216px,#063264 225px,#063264 300px,#08366a 312px,#09386d 339px,#09386d 351px,#0a3b70 360px,#0a3b70 387px,#0c3d73 396px,#0d3f76 423px,#0d3f76 507px,#0e4179 516px,#0e4179 573px,#10457e 576px,#144e8a 579px,#15508d 597px,#175290 603px,#1b5a9c 609px,#185493 612px,#175290 621px,#175290 639px,#15508d 648px,#15508d 666px,#073467 669px,#073467 783px,#08366a 792px,#08366a 807px,#09386d 816px,#09386d 852px,#0a3b70 855px,#134c87 864px,#1b5a9c 876px,#1e61a5 885px,#2267ac 909px,#327cb7 990px,#3e8cbf 996px,#4393c3 1008px,#4393c3 1029px,#4695c4 1035px,#4695c4 1047px,#3885bc 1056px,#4291c2 1158px,#4393c3 1179px,#3e8cbf 1185px,#3e8cbf 1188px,#529dc8 1191px,#6eaed2 1194px,#81bad8 1197px)"></div><div style="left:0;top:356.88px;width:1200px;height:21.59px;background:linear-gradient(to right,#053061 0px,#053061 216px,#063264 225px,#063264 300px,#08366a 312px,#09386d 339px,#09386d 351px,#0a3b70 360px,#0a3b70 387px,#0c3d73 396px,#0d3f76 423px,#0d3f76 507px,#0e4179 516px,#0e4179 573px,#10457e 576px,#144e8a 579px,#15508d 597px,#175290 603px,#1b5a9c 609px,#185493 612px,#175290 621px,#175290 639px,#15508d 648px,#15508d 666px,#073467 669px,#073467 783px,#08366a 792px,#08366a 807px,#09386d 816px,#09386d 852px,#0a3b70 855px,#114781 861px,#175290 870px,#1d5fa2 882px,#2065ab 900px,#327cb7 990px,#3c8abe 996px,#4393c3 1005px,#4393c3 1029px,#4695c4 1035px,#4695c4 1047px,#3885bc 1056px,#4291c2 1158px,#4393c3 1179px,#3e8cbf 1185px,#3e8cbf 1188px,#529dc8 1191px,#6eaed2 1194px,#81bad8 1197px)"></div><div style="left:0;top:377.88px;width:1200px;height:21.59px;background:linear-gradient(to right,#053061 0px,#053061 216px,#063264 225px,#063264 300px,#08366a 312px,#09386d 339px,#09386d 354px,#0a3b70 363px,#0a3b70 387px,#0c3d73 396px,#0d3f76 423px,#0d3f76 507px,#0e4179 516px,#0e4179 573px,#10457e 576px,#144e8a 579px,#15508d 597px,#175290 603px,#1b5a9c 609px,#185493 612px,#175290 621px,#175290 639px,#15508d 648px,#15508d 666px,#073467 669px,#073467 783px,#08366a 792px,#08366a 807px,#09386d 816px,#09386d 852px,#0d3f76 858px,#144e8a 867px,#1d5fa2 882px,#1f63a8 894px,#246aae 921px,#327cb7 990px,#3f8ec0 999px,#4393c3 1008px,#4393c3 1029px,#4695c4 1035px,#4695c4 1047px,#3885bc 1056px,#4291c2 1158px,#4393c3 1179px,#3e8cbf 1185px,#3e8cbf 1188px,#529dc8 1191px,#6eaed2 1194px,#81bad8 1197px)"></div><div style="left:0;top:398.87px;width:1200px;height:21.59px;background:linear-gradient(to right,#053061 0px,#053061 219px,#063264 228px,#063264 303px,#08366a 312px,#09386d 339px,#09386d 354px,#0a3b70 363px,#0a3b70 387px,#0c3d73 396px,#0d3f76 423px,#0d3f76 507px,#0e4179 516px,#0e4179 573px,#10457e 576px,#144e8a 579px,#15508d 597px,#175290 603px,#1b5a9c 609px,#185493 612px,#175290 621px,#175290 639px,#15508d 648px,#15508d 666px,#073467 669px,#073467 783px,#08366a 792px,#08366a 807px,#09386d 816px,#09386d 852px,#0f437b 861px,#175290 870px,#1e61a5 888px,#2267ac 912px,#327cb7 990px,#408fc1 1002px,#4393c3 1008px,#4393c3 1029px,#4695c4 1035px,#4695c4 1047px,#3885bc 1056px,#4291c2 1158px,#4393c3 1179px,#3e8cbf 1185px,#3e8cbf 1188px,#529dc8 1191px,#6eaed2 1194px,#81bad8 1197px)"></div><div style="left:0;top:419.86px;width:1200px;height:21.59px;background:linear-gradient(to right,#053061 0px,#053061 219px,#063264 228px,#063264 303px,#08366a 312px,#09386d 339px,#09386d 354px,#0a3b70 363px,#0a3b70 387px,#0c3d73 396px,#0d3f76 423px,#0d3f76 507px,#0e4179 516px,#0e4179 573px,#10457e 576px,#144e8a 579px,#15508d 597px,#175290 603px,#1b5a9c 609px,#185493 612px,#175290 621px,#175290 639px,#15508d 648px,#15508d 666px,#073467 669px,#073467 783px,#08366a 792px,#08366a 807px,#09386d 816px,#09386d 855px,#114781 864px,#185493 873px,#1e61a5 888px,#2267ac 912px,#327cb7 990px,#3f8ec0 1002px,#4393c3 1011px,#4393c3 1029px,#4695c4 1035px,#4695c4 1047px,#3885bc 1056px,#4291c2 1158px,#4393c3 1179px,#3e8cbf 1185px,#3e8cbf 1188px,#529dc8 1191px,#6eaed2 1194px,#81bad8 1197px)"></div><div style="left:0;top:440.86px;width:1200px;height:21.59px;background:linear-gradient(to right,#053061 0px,#053061 219px,#063264 228px,#063264 303px,#09386d 324px,#09386d 354px,#0a3b70 363px,#0a3b70 387px,#0c3d73 396px,#0d3f76 423px,#0d3f76 507px,#0e4179 516px,#0e4179 573px,#10457e 576px,#144e8a 579px,#15508d 597px,#175290 603px,#1b5a9c 609px,#185493 612px,#175290 621px,#175290 639px,#15508d 648px,#15508d 666px,#073467 669px,#073467 783px,#08366a 792px,#08366a 807px,#09386d 816px,#09386d 855px,#10457e 864px,#185493 873px,#1e61a5 888px,#2267ac 912px,#327cb7 990px,#4291c2 1005px,#4393c3 1029px,#4695c4 1035px,#4695c4 1047px,#3885bc 1056px,#4291c2 1158px,#4393c3 1179px,#3e8cbf 1185px,#3e8cbf 1188px,#529dc8 1191px,#6eaed2 1194px,#81bad8 1197px)"></div><div style="left:0;top:461.85px;width:1200px;height:21.59px;background:linear-gradient(to right,#053061 0px,#053061 219px,#063264 228px,#063264 303px,#073467 312px,#09386d 324px,#09386d 354px,#0a3b70 363px,#0a3b70 387px,#0c3d73 396px,#0d3f76 423px,#0d3f76 507px,#0e4179 516px,#0e4179 573px,#10457e 576px,#144e8a 579px,#15508d 597px,#175290 603px,#1b5a9c 609px,#185493 612px,#175290 621px,#175290 639px,#15508d 648px,#15508d 666px,#073467 669px,#073467 783px,#08366a 792px,#08366a 807px,#09386d 816px,#09386d 855px,#0f437b 864px,#15508d 870px,#1e61a5 888px,#2267ac 912px,#327cb7 990px,#4291c2 1005px,#4393c3 1029px,#4695c4 1035px,#4695c4 1047px,#3885bc 1056px,#4291c2 1158px,#4393c3 1179px,#3e8cbf 1185px,#3e8cbf 1188px,#529dc8 1191px,#6eaed2 1194px,#81bad8 1197px)"></div><div style="left:0;top:482.84px;width:1200px;height:21.59px;background:linear-gradient(to right,#053061 0px,#053061 219px,#063264 228px,#063264 303px,#073467 312px,#09386d 330px,#09386d 357px,#0a3b70 366px,#0a3b70 387px,#0c3d73 396px,#0d3f76 423px,#0d3f76 507px,#0e4179 516px,#0e4179 573px,#10457e 576px,#144e8a 579px,#15508d 597px,#175290 603px,#1b5a9c 609px,#185493 612px,#175290 621px,#175290 639px,#15508d 648px,#15508d 666px,#073467 669px,#073467 783px,#08366a 792px,#08366a 807px,#09386d 816px,#09386d 855px,#0f437b 864px,#175290 873px,#1e61a5 888px,#2369ad 918px,#307ab6 990px,#3e8cbf 1002px,#4393c3 1008px,#4393c3 1029px,#4695c4 1035px,#4695c4 1047px,#3885bc 1056px,#4291c2 1158px,#4393c3 1179px,#3e8cbf 1185px,#3e8cbf 1188px,#529dc8 1191px,#6eaed2 1194px,#81bad8 1197px)"></div><div style="left:0;top:503.83px;width:1200px;height:21.59px;background:linear-gradient(to right,#053061 0px,#053061 219px,#063264 228px,#063264 303px,#073467 312px,#09386d 330px,#09386d 357px,#0a3b70 366px,#0a3b70 387px,#0c3d73 396px,#0d3f76 423px,#0d3f76 507px,#0e4179 516px,#0e4179 573px,#10457e 576px,#144e8a 579px,#15508d 597px,#175290 603px,#1b5a9c 609px,#185493 612px,#175290 621px,#175290 639px,#15508d 648px,#15508d 666px,#073467 669px,#073467 783px,#08366a 792px,#08366a 807px,#09386d 816px,#09386d 855px,#0e4179 864px,#124984 867px,#1a5899 879px,#1e61a5 888px,#2369ad 918px,#307ab6 990px,#3885bc 999px,#4291c2 1005px,#4393c3 1029px,#4695c4 1035px,#4695c4 1047px,#3885bc 1056px,#4291c2 1158px,#4393c3 1179px,#3e8cbf 1185px,#3e8cbf 1188px,#529dc8 1191px,#6eaed2 1194px,#81bad8 1197px)"></div><div style="left:0;top:524.83px;width:1200px;height:21.59px;background:linear-gradient(to right,#053061 0px,#053061 219px,#063264 228px,#063264 303px,#073467 312px,#09386d 330px,#09386d 357px,#0a3b70 366px,#0a3b70 387px,#0c3d73 396px,#0d3f76 423px,#0d3f76 507px,#0e4179 516px,#0e4179 573px,#10457e 576px,#144e8a 579px,#15508d 597px,#175290 603px,#1b5a9c 609px,#185493 612px,#175290 621px,#175290 639px,#15508d 648px,#15508d 666px,#073467 669px,#073467 783px,#08366a 792px,#08366a 807px,#09386d 816px,#09386d 855px,#0e4179 864px,#144e8a 870px,#1e61a5 888px,#2369ad 918px,#327cb7 993px,#3783bb 999px,#4291c2 1005px,#4393c3 1029px,#4695c4 1035px,#4695c4 1047px,#3885bc 1056px,#4291c2 1158px,#4393c3 1179px,#3e8cbf 1185px,#3e8cbf 1188px,#529dc8 1191px,#6eaed2 1194px,#81bad8 1197px)"></div><div style="left:0;top:545.82px;width:1200px;height:21.59px;background:linear-gradient(to right,#053061 0px,#053061 219px,#063264 228px,#063264 303px,#073467 312px,#09386d 333px,#09386d 357px,#0a3b70 366px,#0a3b70 387px,#0c3d73 396px,#0d3f76 423px,#0d3f76 507px,#0e4179 516px,#0e4179 573px,#10457e 576px,#144e8a 579px,#15508d 597px,#175290 603px,#1b5a9c 609px,#185493 612px,#175290 621px,#175290 639px,#15508d 648px,#15508d 666px,#073467 669px,#073467 783px,#08366a 792px,#08366a 807px,#09386d 816px,#09386d 855px,#0a3b70 861px,#0d3f76 864px,#144e8a 870px,#1d5fa2 888px,#2065ab 906px,#327cb7 993px,#3783bb 999px,#4291c2 1005px,#4393c3 1029px,#4695c4 1035px,#4695c4 1047px,#3885bc 1056px,#4291c2 1158px,#4393c3 1179px,#3e8cbf 1185px,#3e8cbf 1188px,#529dc8 1191px,#6eaed2 1194px,#81bad8 1197px)"></div><div style="left:0;top:566.81px;width:1200px;height:21.59px;background:linear-gradient(to right,#053061 0px,#053061 219px,#063264 228px,#063264 306px,#09386d 333px,#09386d 357px,#0a3b70 366px,#0a3b70 387px,#0c3d73 396px,#0d3f76 423px,#0d3f76 507px,#0e4179 516px,#0e4179 573px,#10457e 576px,#144e8a 579px,#15508d 597px,#175290 603px,#1b5a9c 609px,#185493 612px,#175290 621px,#175290 639px,#15508d 648px,#15508d 666px,#073467 669px,#073467 783px,#08366a 792px,#08366a 807px,#09386d 816px,#09386d 861px,#114781 867px,#195696 879px,#1e61a5 891px,#2267ac 915px,#327cb7 996px,#4291c2 1005px,#4393c3 1029px,#4695c4 1035px,#4695c4 1047px,#3885bc 1056px,#4291c2 1158px,#4393c3 1179px,#3e8cbf 1185px,#3e8cbf 1188px,#529dc8 1191px,#6eaed2 1194px,#81bad8 1197px)"></div><div style="left:0;top:587.81px;width:1200px;height:21.59px;background:linear-gradient(to right,#053061 0px,#053061 219px,#063264 228px,#063264 309px,#08366a 321px,#09386d 339px,#09386d 357px,#0a3b70 366px,#0a3b70 387px,#0c3d73 396px,#0d3f76 423px,#0d3f76 507px,#0e4179 516px,#0e4179 573px,#10457e 576px,#144e8a 579px,#15508d 597px,#175290 603px,#1b5a9c 609px,#185493 612px,#175290 621px,#175290 639px,#15508d 648px,#15508d 666px,#073467 669px,#073467 783px,#08366a 792px,#08366a 807px,#09386d 816px,#09386d 861px,#0c3d73 864px,#134c87 870px,#1d5fa2 888px,#2065ab 906px,#327cb7 996px,#3480b9 999px,#4291c2 1005px,#4393c3 1029px,#4695c4 1035px,#4695c4 1047px,#3885bc 1056px,#4291c2 1158px,#4393c3 1179px,#3e8cbf 1185px,#3e8cbf 1188px,#529dc8 1191px,#6eaed2 1194px,#81bad8 1197px)"></div><div style="left:0;top:0;width:1200px;height:609px;background:#15508d;clip-path:polygon(678.5px -6.1px,679.5px 377.5px,683.5px 414.0px,688.5px 487.0px,694.5px 554.0px,694.5px 614.9px,662.5px 614.9px,662.5px -6.1px)"></div><div style="left:0;top:0;width:1200px;height:609px;background:#10457e;clip-path:polygon(722.6px 407.9px,733.8px 614.9px,694.5px 614.9px,696.3px 554.0px,713.2px 430.4px)"></div><div style="left:0;top:0;width:1200px;height:609px;background:#0e4179;clip-path:polygon(777.5px -6.1px,788.5px -6.1px,790.5px 219.2px,790.5px 365.3px,785.5px 432.2px,776.5px 365.3px,775.5px 219.2px)"></div><div style="left:0;top:0;width:1200px;height:609px;background:#0c3d73;clip-path:polygon(797.5px 274.0px,829.5px 243.5px,837.5px 547.9px,804.5px 578.4px)"></div><div class="tex" style="-webkit-mask-image:linear-gradient(to right,transparent 25%,#000 33%,#000 56.3%,transparent 56.9%,transparent 70.8%,rgba(0,0,0,.4) 71.8%);mask-image:linear-gradient(to right,transparent 25%,#000 33%,#000 56.3%,transparent 56.9%,transparent 70.8%,rgba(0,0,0,.4) 71.8%);"><svg width="1200" height="609"><filter id="n3" x="0" y="0" width="100%" height="100%"><feTurbulence type="fractalNoise" baseFrequency="0.42 0.022" numOctaves="2" seed="6"/><feColorMatrix type="matrix" values="0 0 0 0 0  0 0 0 0 0  0 0 0 0 0  2.0 0 0 0 -1.15"/><feComposite in="SourceGraphic" operator="in"/></filter><rect width="1200" height="609" fill="#50aaf0" filter="url(#n3)"/></svg></div></div>
<div class="ax" style="left:99.85px;top:2760.85px;width:1200.20px;height:610.10px;"></div>
<div class="k" style="left:92.8px;top:3369.6px;width:7px;height:1.5px"></div>
<div class="t tick" style="letter-spacing:-1.2px;right:1366.0px;top:3360.7px">0</div>
<div class="k" style="left:92.8px;top:3278.4px;width:7px;height:1.5px"></div>
<div class="t tick" style="letter-spacing:-1.2px;right:1366.0px;top:3269.5px">50</div>
<div class="k" style="left:92.8px;top:3187.2px;width:7px;height:1.5px"></div>
<div class="t tick" style="letter-spacing:-1.2px;right:1366.0px;top:3178.3px">100</div>
<div class="k" style="left:92.8px;top:3096.0px;width:7px;height:1.5px"></div>
<div class="t tick" style="letter-spacing:-1.2px;right:1366.0px;top:3087.1px">150</div>
<div class="k" style="left:92.8px;top:3004.9px;width:7px;height:1.5px"></div>
<div class="t tick" style="letter-spacing:-1.2px;right:1366.0px;top:2996.0px">200</div>
<div class="k" style="left:92.8px;top:2913.7px;width:7px;height:1.5px"></div>
<div class="t tick" style="letter-spacing:-1.2px;right:1366.0px;top:2904.8px">250</div>
<div class="k" style="left:92.8px;top:2822.5px;width:7px;height:1.5px"></div>
<div class="t tick" style="letter-spacing:-1.2px;right:1366.0px;top:2813.6px">300</div>
<div class="k" style="left:99.8px;top:3371.0px;width:1.5px;height:7px"></div>
<div class="t tick" style="left:0.5px;width:200px;text-align:center;top:3382.8px">14:05:32</div>
<div class="k" style="left:399.52500000000003px;top:3371.0px;width:1.5px;height:7px"></div>
<div class="t tick" style="left:300.225px;width:200px;text-align:center;top:3382.8px">14:08:31</div>
<div class="k" style="left:699.25px;top:3371.0px;width:1.5px;height:7px"></div>
<div class="t tick" style="left:599.95px;width:200px;text-align:center;top:3382.8px">14:11:30</div>
<div class="k" style="left:998.975px;top:3371.0px;width:1.5px;height:7px"></div>
<div class="t tick" style="left:899.6750000000001px;width:200px;text-align:center;top:3382.8px">14:14:28</div>
<div class="k" style="left:1298.7px;top:3371.0px;width:1.5px;height:7px"></div>
<div class="t tick" style="left:1199.4px;width:200px;text-align:center;top:3382.8px">14:17:27</div>
<div class="rot lab" style="left:19px;top:3065.9px;font-size:22px;letter-spacing:-0.6px"><span style="display:inline-block;transform:translateX(-50%)">Across-track pixel</span></div>
<div class="cb" style="left:1319px;top:2761.0px;width:26px;height:608.7px"></div>
<div class="k" style="left:1345px;top:3369.0px;width:7px;height:1.5px"></div>
<div class="t tick" style="letter-spacing:-1.2px;left:1359.5px;top:3360.1px">0</div>
<div class="k" style="left:1345px;top:3267.6px;width:7px;height:1.5px"></div>
<div class="t tick" style="letter-spacing:-1.2px;left:1359.5px;top:3258.7px">5</div>
<div class="k" style="left:1345px;top:3166.1px;width:7px;height:1.5px"></div>
<div class="t tick" style="letter-spacing:-1.2px;left:1359.5px;top:3157.2px">10</div>
<div class="k" style="left:1345px;top:3064.7px;width:7px;height:1.5px"></div>
<div class="t tick" style="letter-spacing:-1.2px;left:1359.5px;top:3055.8px">15</div>
<div class="k" style="left:1345px;top:2963.2px;width:7px;height:1.5px"></div>
<div class="t tick" style="letter-spacing:-1.2px;left:1359.5px;top:2954.3px">20</div>
<div class="k" style="left:1345px;top:2861.8px;width:7px;height:1.5px"></div>
<div class="t tick" style="letter-spacing:-1.2px;left:1359.5px;top:2852.8px">25</div>
<div class="k" style="left:1345px;top:2760.3px;width:7px;height:1.5px"></div>
<div class="t tick" style="letter-spacing:-1.2px;left:1359.5px;top:2751.4px">30</div>
<div class="rot lab" style="left:1392px;top:3065.9px;font-size:20px;letter-spacing:-0.6px"><span style="display:inline-block;transform:translateX(-50%)">SWIR 2 [W m<sup>−2</sup> sr<sup>−1</sup> um<sup>−1</sup>]</span></div>
</body></html>
